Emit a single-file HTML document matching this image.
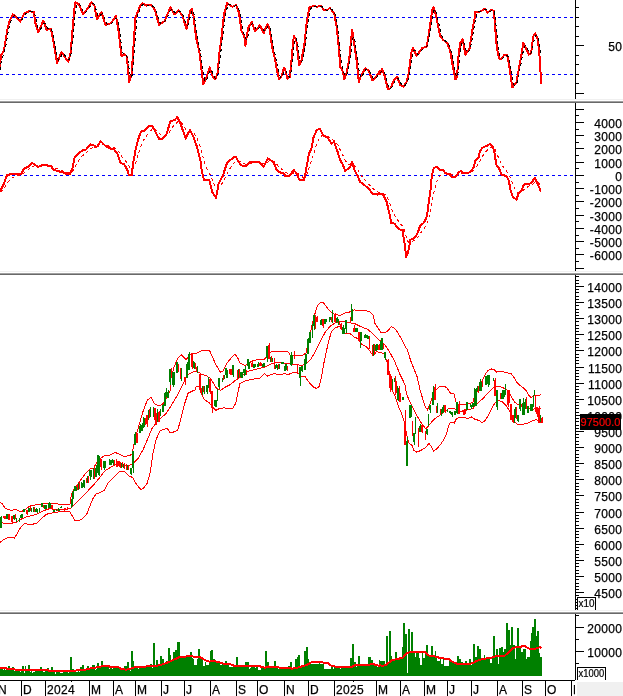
<!DOCTYPE html>
<html><head><meta charset="utf-8"><title>Chart</title>
<style>
html,body{margin:0;padding:0;background:#fff;}
body{width:623px;height:696px;overflow:hidden;}
svg{display:block;}
text{font-family:"Liberation Sans",Arial,sans-serif;fill:#000;stroke:#000;stroke-width:0.25px;}
.l{font-size:12px;letter-spacing:0.33px;}
.p{font-size:11px;fill:#ff0000;stroke:#ff0000;stroke-width:0.2px;}
.s{font-size:10px;stroke-width:0.2px;}
</style></head><body>
<svg width="623" height="696" viewBox="0 0 623 696" shape-rendering="crispEdges">
<rect width="623" height="696" fill="#fff"/>
<rect x="0" y="99" width="623" height="1" fill="#f0f0f0"/>
<rect x="0" y="100" width="623" height="1" fill="#ffffff"/>
<rect x="0" y="101" width="623" height="1" fill="#a0a0a0"/>
<rect x="0" y="102" width="623" height="1" fill="#696969"/>
<rect x="0" y="271" width="623" height="1" fill="#f0f0f0"/>
<rect x="0" y="272" width="623" height="1" fill="#ffffff"/>
<rect x="0" y="273" width="623" height="1" fill="#a0a0a0"/>
<rect x="0" y="274" width="623" height="1" fill="#696969"/>
<rect x="0" y="610" width="623" height="1" fill="#f0f0f0"/>
<rect x="0" y="611" width="623" height="1" fill="#ffffff"/>
<rect x="0" y="612" width="623" height="1" fill="#a0a0a0"/>
<rect x="0" y="613" width="623" height="1" fill="#696969"/>
<path d="M0 17.5H574" stroke="#0000ff" stroke-width="1" stroke-dasharray="3 3" fill="none"/>
<path d="M0 74.5H574" stroke="#0000ff" stroke-width="1" stroke-dasharray="3 3" fill="none"/>
<path d="M0 175.5H574" stroke="#0000ff" stroke-width="1" stroke-dasharray="3 3" fill="none"/>
<polyline points="0.0,502.2 2.4,503.8 4.8,507.8 8.0,509.7 12.0,510.2 16.1,509.4 20.9,511.8 24.1,510.2 27.3,507.8 30.5,505.9 36.9,504.6 43.3,503.8 49.8,503.0 56.2,503.8 64.2,504.6 69.8,504.9 71.4,494.9 73.8,489.3 77.0,485.3 80.3,480.5 85.1,474.1 90.7,468.5 94.7,469.3 95.0,465.4 99.0,459.0 104.6,455.8 110.2,455.0 115.1,452.3 119.1,454.2 123.9,456.6 129.5,455.5 132.2,454.2 133.5,446.2 136.7,433.3 139.9,422.1 143.2,410.9 147.2,400.4 150.9,397.2 154.4,403.6 159.2,406.1 163.2,403.6 167.2,396.4 170.4,390.0 170.9,378.2 174.1,366.9 177.3,358.9 181.3,354.9 186.1,359.7 190.1,354.1 196.5,353.3 202.2,350.5 209.4,350.1 211.8,355.7 215.8,364.5 220.6,372.5 223.0,370.9 227.0,362.9 231.1,358.1 234.8,354.1 237.5,357.3 239.9,362.9 243.1,364.5 245.0,365.6 248.2,363.2 253.0,360.8 259.4,359.2 264.3,359.2 267.5,356.0 271.5,351.5 277.1,351.2 287.5,351.2 290.7,355.7 296.4,355.7 302.8,355.2 306.0,352.8 308.4,341.5 311.6,327.1 314.8,314.3 317.2,306.2 320.4,302.2 323.7,303.0 327.7,308.6 331.7,312.7 334.9,314.3 338.9,315.1 340.0,315.5 344.8,313.1 349.6,312.0 354.4,309.9 359.3,310.7 365.7,310.7 369.7,312.0 372.9,314.7 375.0,323.5 377.7,327.5 380.9,332.4 384.9,332.4 388.2,330.7 391.4,326.4 395.4,329.1 398.6,334.0 401.8,339.6 405.0,346.0 407.4,350.0 410.6,360.4 413.8,368.5 417.0,376.5 419.0,385.0 419.3,387.7 422.5,398.1 425.7,407.7 427.4,409.8 429.8,404.5 432.2,397.3 435.4,390.1 439.4,386.9 444.2,386.1 447.4,388.5 450.6,393.3 454.2,394.1 455.4,399.7 456.7,404.5 460.3,404.5 465.1,404.5 469.9,403.7 473.1,401.8 475.0,394.6 478.2,389.8 481.4,382.5 484.6,375.3 487.8,370.5 491.1,368.9 494.3,369.7 496.7,372.1 501.5,371.3 507.1,372.9 511.1,373.7 514.3,377.7 517.5,383.3 521.5,386.5 525.6,389.8 528.8,395.4 531.2,397.5 535.2,395.4 540.8,394.9" fill="none" stroke="#ff0000" stroke-width="1"/>
<polyline points="0.0,522.2 4.8,523.5 11.2,523.5 16.1,522.2 20.9,519.3 25.7,517.1 32.1,515.5 38.5,513.4 44.9,510.2 49.8,508.6 56.2,509.4 64.2,509.7 70.6,508.6 75.4,503.8 80.3,499.0 85.1,494.1 89.9,488.5 94.7,483.7 95.0,483.1 99.8,477.5 104.6,471.1 111.1,467.0 117.5,463.8 123.9,465.4 129.5,465.4 133.5,463.0 138.3,458.2 143.2,449.4 148.0,438.2 152.0,428.5 156.0,422.9 160.8,418.1 165.6,414.1 170.4,406.9 175.3,398.8 180.1,390.0 183.7,382.2 188.5,374.1 192.5,372.1 197.4,371.4 201.4,374.1 206.2,375.7 210.2,378.2 213.4,383.0 216.6,388.6 220.6,390.2 225.4,387.0 230.3,384.6 235.1,380.6 239.9,377.4 243.9,374.6 245.0,372.0 251.4,370.4 257.8,368.8 264.3,367.2 270.7,364.0 277.1,362.4 283.5,363.2 289.9,364.0 296.4,364.0 301.2,365.6 306.0,364.0 310.8,359.2 315.6,351.2 320.4,341.5 325.3,331.9 330.1,326.3 334.9,323.1 338.9,321.8 340.0,321.1 344.8,321.9 349.6,322.7 354.4,323.5 359.3,325.9 364.1,328.0 368.1,329.6 372.1,333.2 376.9,338.0 381.7,342.0 385.7,346.0 389.8,352.4 393.8,359.6 397.0,366.9 400.2,374.9 403.4,381.3 405.0,385.0 406.5,394.1 409.7,401.3 412.9,407.7 416.1,414.1 419.3,419.8 422.5,424.6 425.7,428.6 428.2,426.2 431.4,422.2 435.4,418.2 439.4,415.7 444.2,412.1 449.0,408.5 453.8,408.5 458.7,411.4 463.5,410.9 468.3,409.8 473.1,408.5 475.0,405.8 479.0,401.8 483.0,398.6 487.0,393.8 491.1,389.8 495.1,386.5 499.9,386.5 503.9,388.2 507.9,390.6 511.1,396.2 514.3,401.8 517.5,404.2 521.5,405.0 525.6,405.8 528.8,408.2 532.0,409.8 536.0,408.2 540.8,408.2" fill="none" stroke="#ff0000" stroke-width="1"/>
<polyline points="0.0,542.3 3.2,539.9 7.2,538.0 12.0,537.5 14.4,538.0 17.7,532.7 20.9,527.0 24.1,523.8 28.9,524.2 32.9,524.2 36.9,523.0 41.7,518.2 46.5,514.2 53.0,512.9 59.4,511.8 65.8,511.8 69.8,511.8 72.2,515.8 75.1,520.6 77.8,520.9 81.9,519.0 86.7,514.2 89.9,506.2 93.1,498.2 96.3,493.7 98.7,493.3 104.6,490.0 107.8,483.1 112.7,478.3 119.1,471.9 124.7,471.9 128.7,475.9 132.7,477.5 136.7,484.7 140.7,489.5 143.2,488.7 147.2,483.1 150.4,471.9 152.8,454.2 156.0,439.8 160.0,430.9 164.0,429.3 167.2,428.5 170.4,433.0 174.5,431.7 177.7,430.1 180.9,418.9 184.1,405.2 188.1,393.2 192.9,390.8 195.0,390.0 196.5,386.2 199.0,387.0 201.4,394.2 204.6,399.8 209.4,403.0 212.6,407.0 215.8,410.3 219.0,408.7 223.8,407.8 228.7,408.7 232.7,408.3 235.9,403.0 238.0,391.8 239.9,383.8 243.9,381.4 245.0,380.9 251.4,379.3 259.4,378.5 264.3,373.7 267.5,376.1 273.9,373.7 280.3,374.5 285.1,373.7 288.3,374.5 293.2,372.4 298.0,372.8 301.2,376.9 305.2,376.9 309.2,382.5 313.2,386.8 316.4,388.4 319.2,386.5 321.2,378.5 323.7,364.0 326.1,352.8 328.5,341.5 331.7,331.1 334.9,327.9 338.9,326.5 340.0,326.7 344.8,333.2 349.6,333.2 354.4,337.2 358.5,338.8 361.7,344.4 364.9,345.7 368.1,348.4 371.3,353.2 373.7,355.6 376.1,351.6 380.1,352.4 384.1,354.0 386.5,360.4 388.2,366.9 389.8,374.9 391.4,385.0 392.0,389.3 396.1,398.9 399.3,408.5 402.5,415.7 404.9,424.6 406.5,434.2 408.9,443.0 412.1,445.4 413.7,450.3 416.9,452.2 420.9,450.3 425.7,447.8 429.0,443.0 431.4,447.0 433.8,451.1 437.0,448.7 441.0,443.8 444.2,439.0 446.6,433.4 449.3,423.8 451.4,422.2 454.2,423.0 456.2,419.0 458.7,417.8 463.5,417.8 468.3,418.2 471.5,416.9 473.9,418.6 475.0,419.5 479.0,420.3 482.2,422.7 485.4,420.3 488.6,414.6 491.9,408.2 495.1,402.6 498.3,400.2 502.3,401.8 506.3,405.8 509.5,410.6 511.9,417.0 514.3,421.9 517.5,424.3 522.4,424.3 527.2,423.5 531.2,421.5 536.0,419.5 539.2,421.9 540.8,422.7" fill="none" stroke="#ff0000" stroke-width="1"/>
<rect x="0" y="517" width="1" height="11" fill="#008000"/>
<rect x="1" y="516" width="1" height="12" fill="#008000"/>
<rect x="3" y="516" width="1" height="2" fill="#ff0000"/>
<rect x="4" y="516" width="1" height="3" fill="#ff0000"/>
<rect x="5" y="516" width="1" height="3" fill="#ff0000"/>
<rect x="6" y="514" width="1" height="5" fill="#008000"/>
<rect x="7" y="514" width="1" height="5" fill="#008000"/>
<rect x="8" y="514" width="1" height="6" fill="#ff0000"/>
<rect x="9" y="514" width="1" height="6" fill="#ff0000"/>
<rect x="11" y="516" width="1" height="6" fill="#ff0000"/>
<rect x="12" y="516" width="1" height="7" fill="#ff0000"/>
<rect x="13" y="515" width="1" height="4" fill="#008000"/>
<rect x="14" y="515" width="1" height="5" fill="#008000"/>
<rect x="15" y="514" width="1" height="5" fill="#ff0000"/>
<rect x="16" y="518" width="1" height="4" fill="#008000"/>
<rect x="19" y="518" width="1" height="4" fill="#008000"/>
<rect x="20" y="515" width="1" height="3" fill="#008000"/>
<rect x="21" y="514" width="1" height="4" fill="#008000"/>
<rect x="22" y="514" width="1" height="4" fill="#008000"/>
<rect x="23" y="509" width="1" height="3" fill="#008000"/>
<rect x="24" y="509" width="1" height="3" fill="#008000"/>
<rect x="26" y="510" width="1" height="4" fill="#ff0000"/>
<rect x="27" y="510" width="1" height="5" fill="#ff0000"/>
<rect x="28" y="508" width="1" height="4" fill="#008000"/>
<rect x="29" y="508" width="1" height="4" fill="#008000"/>
<rect x="30" y="506" width="1" height="5" fill="#ff0000"/>
<rect x="31" y="508" width="1" height="4" fill="#008000"/>
<rect x="33" y="507" width="1" height="5" fill="#008000"/>
<rect x="34" y="507" width="1" height="5" fill="#ff0000"/>
<rect x="35" y="509" width="1" height="3" fill="#008000"/>
<rect x="36" y="508" width="1" height="4" fill="#008000"/>
<rect x="37" y="509" width="1" height="4" fill="#008000"/>
<rect x="39" y="508" width="1" height="4" fill="#008000"/>
<rect x="41" y="503" width="1" height="4" fill="#008000"/>
<rect x="42" y="503" width="1" height="4" fill="#008000"/>
<rect x="43" y="505" width="1" height="3" fill="#ff0000"/>
<rect x="44" y="505" width="1" height="4" fill="#008000"/>
<rect x="45" y="505" width="1" height="4" fill="#008000"/>
<rect x="46" y="505" width="1" height="4" fill="#008000"/>
<rect x="48" y="503" width="1" height="5" fill="#008000"/>
<rect x="49" y="502" width="1" height="6" fill="#008000"/>
<rect x="50" y="503" width="1" height="5" fill="#008000"/>
<rect x="51" y="505" width="1" height="3" fill="#ff0000"/>
<rect x="52" y="505" width="1" height="5" fill="#ff0000"/>
<rect x="53" y="510" width="1" height="2" fill="#008000"/>
<rect x="54" y="510" width="1" height="2" fill="#008000"/>
<rect x="56" y="509" width="1" height="2" fill="#008000"/>
<rect x="57" y="509" width="1" height="2" fill="#ff0000"/>
<rect x="58" y="508" width="1" height="3" fill="#008000"/>
<rect x="59" y="509" width="1" height="2" fill="#008000"/>
<rect x="60" y="507" width="1" height="1" fill="#008000"/>
<rect x="61" y="506" width="1" height="2" fill="#008000"/>
<rect x="64" y="508" width="1" height="3" fill="#ff0000"/>
<rect x="65" y="508" width="1" height="2" fill="#ff0000"/>
<rect x="67" y="507" width="1" height="2" fill="#ff0000"/>
<rect x="71" y="499" width="1" height="9" fill="#008000"/>
<rect x="72" y="492" width="1" height="14" fill="#008000"/>
<rect x="73" y="490" width="1" height="9" fill="#008000"/>
<rect x="74" y="486" width="1" height="5" fill="#008000"/>
<rect x="75" y="486" width="1" height="5" fill="#008000"/>
<rect x="76" y="487" width="1" height="4" fill="#008000"/>
<rect x="77" y="484" width="1" height="6" fill="#ff0000"/>
<rect x="78" y="483" width="1" height="7" fill="#008000"/>
<rect x="79" y="483" width="1" height="6" fill="#ff0000"/>
<rect x="81" y="482" width="1" height="6" fill="#008000"/>
<rect x="82" y="483" width="1" height="5" fill="#008000"/>
<rect x="83" y="480" width="1" height="7" fill="#008000"/>
<rect x="84" y="480" width="1" height="8" fill="#008000"/>
<rect x="86" y="478" width="1" height="5" fill="#ff0000"/>
<rect x="87" y="476" width="1" height="7" fill="#008000"/>
<rect x="88" y="476" width="1" height="7" fill="#ff0000"/>
<rect x="89" y="470" width="1" height="6" fill="#008000"/>
<rect x="90" y="470" width="1" height="10" fill="#008000"/>
<rect x="91" y="470" width="1" height="7" fill="#008000"/>
<rect x="93" y="468" width="1" height="11" fill="#008000"/>
<rect x="94" y="466" width="1" height="13" fill="#ff0000"/>
<rect x="95" y="468" width="1" height="9" fill="#008000"/>
<rect x="96" y="465" width="1" height="12" fill="#008000"/>
<rect x="97" y="455" width="1" height="18" fill="#008000"/>
<rect x="98" y="455" width="1" height="20" fill="#008000"/>
<rect x="99" y="456" width="1" height="20" fill="#008000"/>
<rect x="100" y="459" width="1" height="8" fill="#ff0000"/>
<rect x="101" y="459" width="1" height="11" fill="#ff0000"/>
<rect x="103" y="461" width="1" height="7" fill="#008000"/>
<rect x="104" y="461" width="1" height="9" fill="#008000"/>
<rect x="105" y="461" width="1" height="7" fill="#008000"/>
<rect x="109" y="459" width="1" height="6" fill="#008000"/>
<rect x="110" y="460" width="1" height="5" fill="#008000"/>
<rect x="111" y="460" width="1" height="5" fill="#008000"/>
<rect x="112" y="459" width="1" height="4" fill="#008000"/>
<rect x="113" y="460" width="1" height="5" fill="#008000"/>
<rect x="114" y="460" width="1" height="5" fill="#ff0000"/>
<rect x="116" y="459" width="1" height="8" fill="#ff0000"/>
<rect x="117" y="461" width="1" height="6" fill="#ff0000"/>
<rect x="118" y="461" width="1" height="5" fill="#ff0000"/>
<rect x="119" y="461" width="1" height="6" fill="#ff0000"/>
<rect x="120" y="462" width="1" height="6" fill="#ff0000"/>
<rect x="121" y="463" width="1" height="5" fill="#008000"/>
<rect x="122" y="462" width="1" height="5" fill="#ff0000"/>
<rect x="123" y="464" width="1" height="4" fill="#008000"/>
<rect x="124" y="463" width="1" height="6" fill="#ff0000"/>
<rect x="126" y="464" width="1" height="6" fill="#ff0000"/>
<rect x="127" y="465" width="1" height="5" fill="#008000"/>
<rect x="128" y="465" width="1" height="5" fill="#ff0000"/>
<rect x="130" y="468" width="1" height="6" fill="#008000"/>
<rect x="131" y="468" width="1" height="7" fill="#008000"/>
<rect x="132" y="451" width="1" height="17" fill="#008000"/>
<rect x="133" y="451" width="1" height="22" fill="#008000"/>
<rect x="134" y="434" width="1" height="11" fill="#008000"/>
<rect x="135" y="432" width="1" height="13" fill="#008000"/>
<rect x="136" y="434" width="1" height="9" fill="#ff0000"/>
<rect x="137" y="433" width="1" height="10" fill="#ff0000"/>
<rect x="139" y="426" width="1" height="7" fill="#008000"/>
<rect x="140" y="424" width="1" height="9" fill="#008000"/>
<rect x="141" y="425" width="1" height="6" fill="#008000"/>
<rect x="142" y="423" width="1" height="8" fill="#008000"/>
<rect x="143" y="417" width="1" height="11" fill="#008000"/>
<rect x="144" y="418" width="1" height="9" fill="#008000"/>
<rect x="145" y="418" width="1" height="7" fill="#ff0000"/>
<rect x="146" y="415" width="1" height="9" fill="#ff0000"/>
<rect x="147" y="415" width="1" height="12" fill="#ff0000"/>
<rect x="148" y="410" width="1" height="10" fill="#008000"/>
<rect x="149" y="409" width="1" height="9" fill="#ff0000"/>
<rect x="150" y="407" width="1" height="10" fill="#008000"/>
<rect x="153" y="407" width="1" height="10" fill="#008000"/>
<rect x="154" y="408" width="1" height="12" fill="#ff0000"/>
<rect x="155" y="408" width="1" height="17" fill="#ff0000"/>
<rect x="156" y="413" width="1" height="12" fill="#ff0000"/>
<rect x="157" y="409" width="1" height="13" fill="#008000"/>
<rect x="158" y="412" width="1" height="10" fill="#ff0000"/>
<rect x="159" y="411" width="1" height="11" fill="#ff0000"/>
<rect x="160" y="409" width="1" height="7" fill="#008000"/>
<rect x="162" y="405" width="1" height="7" fill="#008000"/>
<rect x="163" y="404" width="1" height="8" fill="#008000"/>
<rect x="164" y="393" width="1" height="13" fill="#008000"/>
<rect x="165" y="392" width="1" height="14" fill="#008000"/>
<rect x="166" y="388" width="1" height="9" fill="#008000"/>
<rect x="167" y="392" width="1" height="6" fill="#008000"/>
<rect x="168" y="390" width="1" height="8" fill="#008000"/>
<rect x="169" y="369" width="1" height="13" fill="#008000"/>
<rect x="170" y="369" width="1" height="16" fill="#008000"/>
<rect x="171" y="368" width="1" height="10" fill="#ff0000"/>
<rect x="172" y="372" width="1" height="13" fill="#008000"/>
<rect x="173" y="372" width="1" height="15" fill="#008000"/>
<rect x="174" y="372" width="1" height="13" fill="#008000"/>
<rect x="176" y="362" width="1" height="11" fill="#008000"/>
<rect x="177" y="362" width="1" height="11" fill="#008000"/>
<rect x="178" y="364" width="1" height="8" fill="#ff0000"/>
<rect x="180" y="368" width="1" height="11" fill="#ff0000"/>
<rect x="181" y="368" width="1" height="13" fill="#008000"/>
<rect x="184" y="377" width="1" height="5" fill="#ff0000"/>
<rect x="185" y="377" width="1" height="8" fill="#ff0000"/>
<rect x="186" y="364" width="1" height="14" fill="#008000"/>
<rect x="187" y="362" width="1" height="16" fill="#008000"/>
<rect x="188" y="354" width="1" height="16" fill="#008000"/>
<rect x="189" y="352" width="1" height="18" fill="#008000"/>
<rect x="191" y="353" width="1" height="14" fill="#ff0000"/>
<rect x="192" y="353" width="1" height="16" fill="#ff0000"/>
<rect x="193" y="361" width="1" height="7" fill="#008000"/>
<rect x="194" y="362" width="1" height="7" fill="#008000"/>
<rect x="195" y="363" width="1" height="6" fill="#ff0000"/>
<rect x="196" y="367" width="1" height="5" fill="#ff0000"/>
<rect x="197" y="366" width="1" height="7" fill="#008000"/>
<rect x="199" y="374" width="1" height="15" fill="#ff0000"/>
<rect x="200" y="374" width="1" height="17" fill="#ff0000"/>
<rect x="201" y="388" width="1" height="7" fill="#ff0000"/>
<rect x="202" y="386" width="1" height="9" fill="#008000"/>
<rect x="203" y="386" width="1" height="6" fill="#ff0000"/>
<rect x="204" y="386" width="1" height="8" fill="#008000"/>
<rect x="206" y="385" width="1" height="7" fill="#008000"/>
<rect x="207" y="385" width="1" height="9" fill="#008000"/>
<rect x="208" y="377" width="1" height="11" fill="#008000"/>
<rect x="209" y="379" width="1" height="13" fill="#ff0000"/>
<rect x="210" y="379" width="1" height="15" fill="#ff0000"/>
<rect x="211" y="391" width="1" height="17" fill="#ff0000"/>
<rect x="212" y="391" width="1" height="22" fill="#ff0000"/>
<rect x="214" y="400" width="1" height="6" fill="#008000"/>
<rect x="215" y="400" width="1" height="7" fill="#008000"/>
<rect x="216" y="400" width="1" height="7" fill="#008000"/>
<rect x="217" y="389" width="1" height="12" fill="#008000"/>
<rect x="218" y="378" width="1" height="9" fill="#008000"/>
<rect x="219" y="378" width="1" height="11" fill="#008000"/>
<rect x="222" y="378" width="1" height="4" fill="#008000"/>
<rect x="223" y="375" width="1" height="5" fill="#ff0000"/>
<rect x="224" y="375" width="1" height="4" fill="#008000"/>
<rect x="225" y="368" width="1" height="7" fill="#008000"/>
<rect x="226" y="368" width="1" height="10" fill="#008000"/>
<rect x="227" y="370" width="1" height="8" fill="#008000"/>
<rect x="229" y="369" width="1" height="5" fill="#ff0000"/>
<rect x="230" y="369" width="1" height="6" fill="#ff0000"/>
<rect x="231" y="369" width="1" height="6" fill="#ff0000"/>
<rect x="232" y="365" width="1" height="10" fill="#008000"/>
<rect x="233" y="365" width="1" height="12" fill="#008000"/>
<rect x="237" y="370" width="1" height="8" fill="#ff0000"/>
<rect x="238" y="369" width="1" height="9" fill="#008000"/>
<rect x="239" y="369" width="1" height="8" fill="#ff0000"/>
<rect x="240" y="372" width="1" height="5" fill="#008000"/>
<rect x="241" y="372" width="1" height="6" fill="#008000"/>
<rect x="242" y="372" width="1" height="6" fill="#008000"/>
<rect x="243" y="369" width="1" height="4" fill="#008000"/>
<rect x="244" y="369" width="1" height="7" fill="#008000"/>
<rect x="245" y="366" width="1" height="9" fill="#008000"/>
<rect x="246" y="370" width="1" height="5" fill="#ff0000"/>
<rect x="247" y="359" width="1" height="7" fill="#008000"/>
<rect x="248" y="359" width="1" height="10" fill="#008000"/>
<rect x="249" y="362" width="1" height="7" fill="#008000"/>
<rect x="251" y="363" width="1" height="4" fill="#ff0000"/>
<rect x="252" y="362" width="1" height="5" fill="#ff0000"/>
<rect x="253" y="364" width="1" height="4" fill="#008000"/>
<rect x="254" y="364" width="1" height="4" fill="#008000"/>
<rect x="255" y="364" width="1" height="3" fill="#008000"/>
<rect x="257" y="364" width="1" height="3" fill="#008000"/>
<rect x="258" y="362" width="1" height="5" fill="#008000"/>
<rect x="259" y="363" width="1" height="3" fill="#ff0000"/>
<rect x="260" y="362" width="1" height="4" fill="#ff0000"/>
<rect x="261" y="363" width="1" height="3" fill="#ff0000"/>
<rect x="262" y="364" width="1" height="3" fill="#008000"/>
<rect x="263" y="363" width="1" height="4" fill="#008000"/>
<rect x="264" y="363" width="1" height="4" fill="#008000"/>
<rect x="266" y="346" width="1" height="12" fill="#008000"/>
<rect x="267" y="346" width="1" height="16" fill="#008000"/>
<rect x="268" y="345" width="1" height="14" fill="#ff0000"/>
<rect x="269" y="343" width="1" height="16" fill="#ff0000"/>
<rect x="270" y="357" width="1" height="5" fill="#008000"/>
<rect x="271" y="356" width="1" height="6" fill="#ff0000"/>
<rect x="272" y="358" width="1" height="4" fill="#008000"/>
<rect x="274" y="358" width="1" height="11" fill="#ff0000"/>
<rect x="275" y="365" width="1" height="4" fill="#008000"/>
<rect x="276" y="364" width="1" height="4" fill="#008000"/>
<rect x="277" y="365" width="1" height="5" fill="#008000"/>
<rect x="278" y="364" width="1" height="5" fill="#ff0000"/>
<rect x="279" y="364" width="1" height="5" fill="#008000"/>
<rect x="281" y="362" width="1" height="2" fill="#008000"/>
<rect x="282" y="362" width="1" height="2" fill="#008000"/>
<rect x="283" y="362" width="1" height="2" fill="#008000"/>
<rect x="284" y="366" width="1" height="5" fill="#008000"/>
<rect x="285" y="364" width="1" height="7" fill="#008000"/>
<rect x="286" y="364" width="1" height="6" fill="#008000"/>
<rect x="287" y="366" width="1" height="5" fill="#ff0000"/>
<rect x="290" y="355" width="1" height="10" fill="#008000"/>
<rect x="291" y="352" width="1" height="14" fill="#008000"/>
<rect x="292" y="355" width="1" height="9" fill="#008000"/>
<rect x="294" y="351" width="1" height="8" fill="#ff0000"/>
<rect x="297" y="364" width="1" height="10" fill="#ff0000"/>
<rect x="299" y="367" width="1" height="11" fill="#008000"/>
<rect x="300" y="367" width="1" height="19" fill="#008000"/>
<rect x="301" y="366" width="1" height="5" fill="#008000"/>
<rect x="302" y="366" width="1" height="6" fill="#008000"/>
<rect x="304" y="359" width="1" height="11" fill="#008000"/>
<rect x="305" y="354" width="1" height="16" fill="#008000"/>
<rect x="306" y="354" width="1" height="10" fill="#008000"/>
<rect x="307" y="339" width="1" height="15" fill="#008000"/>
<rect x="308" y="338" width="1" height="16" fill="#008000"/>
<rect x="309" y="332" width="1" height="11" fill="#008000"/>
<rect x="310" y="332" width="1" height="11" fill="#008000"/>
<rect x="312" y="324" width="1" height="14" fill="#008000"/>
<rect x="313" y="315" width="1" height="11" fill="#008000"/>
<rect x="314" y="315" width="1" height="15" fill="#008000"/>
<rect x="315" y="315" width="1" height="14" fill="#ff0000"/>
<rect x="316" y="317" width="1" height="5" fill="#ff0000"/>
<rect x="317" y="316" width="1" height="6" fill="#ff0000"/>
<rect x="320" y="320" width="1" height="5" fill="#008000"/>
<rect x="321" y="319" width="1" height="6" fill="#008000"/>
<rect x="322" y="319" width="1" height="7" fill="#ff0000"/>
<rect x="323" y="319" width="1" height="9" fill="#ff0000"/>
<rect x="324" y="319" width="1" height="5" fill="#008000"/>
<rect x="325" y="319" width="1" height="5" fill="#008000"/>
<rect x="326" y="319" width="1" height="3" fill="#008000"/>
<rect x="329" y="317" width="1" height="5" fill="#008000"/>
<rect x="330" y="317" width="1" height="3" fill="#008000"/>
<rect x="331" y="317" width="1" height="5" fill="#ff0000"/>
<rect x="332" y="310" width="1" height="13" fill="#008000"/>
<rect x="334" y="315" width="1" height="7" fill="#ff0000"/>
<rect x="335" y="313" width="1" height="9" fill="#ff0000"/>
<rect x="336" y="318" width="1" height="5" fill="#008000"/>
<rect x="337" y="317" width="1" height="5" fill="#008000"/>
<rect x="338" y="319" width="1" height="6" fill="#008000"/>
<rect x="339" y="321" width="1" height="4" fill="#ff0000"/>
<rect x="340" y="324" width="1" height="5" fill="#ff0000"/>
<rect x="341" y="323" width="1" height="6" fill="#ff0000"/>
<rect x="342" y="327" width="1" height="7" fill="#008000"/>
<rect x="343" y="325" width="1" height="9" fill="#008000"/>
<rect x="344" y="328" width="1" height="6" fill="#008000"/>
<rect x="345" y="320" width="1" height="9" fill="#008000"/>
<rect x="346" y="320" width="1" height="13" fill="#008000"/>
<rect x="350" y="317" width="1" height="6" fill="#ff0000"/>
<rect x="351" y="304" width="1" height="17" fill="#008000"/>
<rect x="352" y="309" width="1" height="12" fill="#008000"/>
<rect x="353" y="328" width="1" height="4" fill="#ff0000"/>
<rect x="354" y="325" width="1" height="7" fill="#ff0000"/>
<rect x="355" y="328" width="1" height="4" fill="#008000"/>
<rect x="356" y="328" width="1" height="4" fill="#008000"/>
<rect x="357" y="328" width="1" height="4" fill="#008000"/>
<rect x="358" y="332" width="1" height="9" fill="#ff0000"/>
<rect x="359" y="332" width="1" height="10" fill="#ff0000"/>
<rect x="360" y="332" width="1" height="16" fill="#008000"/>
<rect x="361" y="332" width="1" height="9" fill="#008000"/>
<rect x="364" y="335" width="1" height="3" fill="#008000"/>
<rect x="365" y="334" width="1" height="4" fill="#008000"/>
<rect x="366" y="335" width="1" height="3" fill="#008000"/>
<rect x="367" y="335" width="1" height="4" fill="#008000"/>
<rect x="368" y="336" width="1" height="3" fill="#008000"/>
<rect x="369" y="336" width="1" height="13" fill="#ff0000"/>
<rect x="372" y="345" width="1" height="11" fill="#ff0000"/>
<rect x="373" y="344" width="1" height="12" fill="#008000"/>
<rect x="374" y="344" width="1" height="10" fill="#ff0000"/>
<rect x="375" y="345" width="1" height="6" fill="#008000"/>
<rect x="376" y="344" width="1" height="7" fill="#008000"/>
<rect x="377" y="344" width="1" height="6" fill="#008000"/>
<rect x="378" y="345" width="1" height="5" fill="#ff0000"/>
<rect x="379" y="344" width="1" height="6" fill="#ff0000"/>
<rect x="380" y="341" width="1" height="9" fill="#008000"/>
<rect x="381" y="338" width="1" height="12" fill="#008000"/>
<rect x="382" y="338" width="1" height="12" fill="#008000"/>
<rect x="383" y="344" width="1" height="5" fill="#ff0000"/>
<rect x="384" y="352" width="1" height="6" fill="#008000"/>
<rect x="385" y="352" width="1" height="8" fill="#008000"/>
<rect x="387" y="360" width="1" height="15" fill="#ff0000"/>
<rect x="388" y="359" width="1" height="16" fill="#ff0000"/>
<rect x="389" y="374" width="1" height="14" fill="#ff0000"/>
<rect x="390" y="374" width="1" height="18" fill="#ff0000"/>
<rect x="391" y="376" width="1" height="14" fill="#ff0000"/>
<rect x="392" y="379" width="1" height="11" fill="#008000"/>
<rect x="394" y="378" width="1" height="4" fill="#008000"/>
<rect x="395" y="376" width="1" height="19" fill="#ff0000"/>
<rect x="396" y="381" width="1" height="12" fill="#ff0000"/>
<rect x="397" y="386" width="1" height="14" fill="#008000"/>
<rect x="398" y="388" width="1" height="13" fill="#008000"/>
<rect x="399" y="386" width="1" height="16" fill="#ff0000"/>
<rect x="400" y="393" width="1" height="9" fill="#ff0000"/>
<rect x="402" y="397" width="1" height="3" fill="#008000"/>
<rect x="403" y="397" width="1" height="3" fill="#008000"/>
<rect x="404" y="422" width="1" height="23" fill="#ff0000"/>
<rect x="405" y="410" width="1" height="35" fill="#ff0000"/>
<rect x="406" y="441" width="1" height="25" fill="#008000"/>
<rect x="407" y="437" width="1" height="29" fill="#008000"/>
<rect x="409" y="405" width="1" height="13" fill="#008000"/>
<rect x="410" y="405" width="1" height="13" fill="#008000"/>
<rect x="411" y="405" width="1" height="12" fill="#008000"/>
<rect x="412" y="421" width="1" height="15" fill="#ff0000"/>
<rect x="413" y="433" width="1" height="9" fill="#008000"/>
<rect x="414" y="433" width="1" height="12" fill="#008000"/>
<rect x="415" y="417" width="1" height="17" fill="#008000"/>
<rect x="418" y="428" width="1" height="19" fill="#ff0000"/>
<rect x="419" y="426" width="1" height="6" fill="#008000"/>
<rect x="420" y="424" width="1" height="8" fill="#008000"/>
<rect x="421" y="425" width="1" height="7" fill="#ff0000"/>
<rect x="422" y="425" width="1" height="8" fill="#ff0000"/>
<rect x="425" y="431" width="1" height="9" fill="#ff0000"/>
<rect x="426" y="429" width="1" height="5" fill="#008000"/>
<rect x="427" y="429" width="1" height="6" fill="#008000"/>
<rect x="428" y="414" width="1" height="12" fill="#008000"/>
<rect x="429" y="405" width="1" height="5" fill="#008000"/>
<rect x="430" y="405" width="1" height="8" fill="#008000"/>
<rect x="432" y="392" width="1" height="13" fill="#008000"/>
<rect x="433" y="386" width="1" height="19" fill="#008000"/>
<rect x="434" y="387" width="1" height="13" fill="#ff0000"/>
<rect x="435" y="384" width="1" height="16" fill="#ff0000"/>
<rect x="436" y="406" width="1" height="7" fill="#ff0000"/>
<rect x="437" y="403" width="1" height="10" fill="#008000"/>
<rect x="440" y="409" width="1" height="5" fill="#ff0000"/>
<rect x="441" y="409" width="1" height="7" fill="#008000"/>
<rect x="442" y="407" width="1" height="6" fill="#008000"/>
<rect x="443" y="405" width="1" height="8" fill="#008000"/>
<rect x="444" y="405" width="1" height="7" fill="#ff0000"/>
<rect x="445" y="405" width="1" height="8" fill="#ff0000"/>
<rect x="447" y="409" width="1" height="3" fill="#008000"/>
<rect x="449" y="411" width="1" height="2" fill="#008000"/>
<rect x="450" y="411" width="1" height="3" fill="#008000"/>
<rect x="451" y="412" width="1" height="3" fill="#008000"/>
<rect x="452" y="412" width="1" height="5" fill="#008000"/>
<rect x="454" y="411" width="1" height="4" fill="#008000"/>
<rect x="455" y="411" width="1" height="4" fill="#008000"/>
<rect x="456" y="402" width="1" height="11" fill="#008000"/>
<rect x="457" y="402" width="1" height="12" fill="#008000"/>
<rect x="458" y="405" width="1" height="9" fill="#ff0000"/>
<rect x="459" y="401" width="1" height="13" fill="#ff0000"/>
<rect x="463" y="411" width="1" height="4" fill="#ff0000"/>
<rect x="464" y="409" width="1" height="6" fill="#ff0000"/>
<rect x="465" y="409" width="1" height="5" fill="#ff0000"/>
<rect x="466" y="402" width="1" height="8" fill="#008000"/>
<rect x="467" y="402" width="1" height="8" fill="#008000"/>
<rect x="470" y="404" width="1" height="3" fill="#008000"/>
<rect x="471" y="405" width="1" height="4" fill="#008000"/>
<rect x="472" y="403" width="1" height="4" fill="#008000"/>
<rect x="473" y="403" width="1" height="4" fill="#008000"/>
<rect x="474" y="388" width="1" height="18" fill="#008000"/>
<rect x="475" y="389" width="1" height="17" fill="#008000"/>
<rect x="476" y="388" width="1" height="18" fill="#008000"/>
<rect x="477" y="386" width="1" height="5" fill="#008000"/>
<rect x="478" y="386" width="1" height="7" fill="#ff0000"/>
<rect x="479" y="382" width="1" height="9" fill="#008000"/>
<rect x="480" y="379" width="1" height="12" fill="#008000"/>
<rect x="481" y="382" width="1" height="9" fill="#008000"/>
<rect x="482" y="380" width="1" height="7" fill="#ff0000"/>
<rect x="485" y="376" width="1" height="9" fill="#008000"/>
<rect x="486" y="376" width="1" height="9" fill="#008000"/>
<rect x="487" y="375" width="1" height="9" fill="#008000"/>
<rect x="488" y="375" width="1" height="12" fill="#008000"/>
<rect x="489" y="375" width="1" height="10" fill="#008000"/>
<rect x="493" y="378" width="1" height="3" fill="#008000"/>
<rect x="494" y="380" width="1" height="16" fill="#ff0000"/>
<rect x="495" y="378" width="1" height="18" fill="#ff0000"/>
<rect x="496" y="390" width="1" height="17" fill="#008000"/>
<rect x="497" y="390" width="1" height="20" fill="#008000"/>
<rect x="500" y="393" width="1" height="6" fill="#ff0000"/>
<rect x="501" y="393" width="1" height="6" fill="#008000"/>
<rect x="502" y="390" width="1" height="9" fill="#008000"/>
<rect x="503" y="390" width="1" height="9" fill="#008000"/>
<rect x="504" y="390" width="1" height="7" fill="#008000"/>
<rect x="505" y="384" width="1" height="11" fill="#008000"/>
<rect x="507" y="390" width="1" height="15" fill="#ff0000"/>
<rect x="508" y="390" width="1" height="17" fill="#ff0000"/>
<rect x="509" y="390" width="1" height="13" fill="#ff0000"/>
<rect x="510" y="404" width="1" height="16" fill="#ff0000"/>
<rect x="511" y="404" width="1" height="16" fill="#ff0000"/>
<rect x="512" y="415" width="1" height="7" fill="#ff0000"/>
<rect x="513" y="415" width="1" height="8" fill="#ff0000"/>
<rect x="514" y="409" width="1" height="14" fill="#008000"/>
<rect x="515" y="407" width="1" height="11" fill="#008000"/>
<rect x="516" y="407" width="1" height="12" fill="#ff0000"/>
<rect x="517" y="415" width="1" height="6" fill="#008000"/>
<rect x="518" y="415" width="1" height="7" fill="#008000"/>
<rect x="519" y="399" width="1" height="10" fill="#008000"/>
<rect x="520" y="399" width="1" height="12" fill="#008000"/>
<rect x="521" y="404" width="1" height="3" fill="#ff0000"/>
<rect x="522" y="403" width="1" height="12" fill="#008000"/>
<rect x="523" y="398" width="1" height="17" fill="#008000"/>
<rect x="524" y="402" width="1" height="13" fill="#008000"/>
<rect x="525" y="399" width="1" height="10" fill="#008000"/>
<rect x="526" y="397" width="1" height="12" fill="#ff0000"/>
<rect x="527" y="406" width="1" height="7" fill="#008000"/>
<rect x="528" y="406" width="1" height="7" fill="#008000"/>
<rect x="530" y="404" width="1" height="7" fill="#008000"/>
<rect x="531" y="404" width="1" height="7" fill="#008000"/>
<rect x="532" y="404" width="1" height="7" fill="#008000"/>
<rect x="533" y="395" width="1" height="12" fill="#008000"/>
<rect x="534" y="390" width="1" height="5" fill="#008000"/>
<rect x="535" y="395" width="1" height="17" fill="#ff0000"/>
<rect x="536" y="407" width="1" height="7" fill="#ff0000"/>
<rect x="537" y="407" width="1" height="10" fill="#ff0000"/>
<rect x="538" y="409" width="1" height="14" fill="#ff0000"/>
<rect x="539" y="406" width="1" height="17" fill="#ff0000"/>
<rect x="540" y="415" width="1" height="7" fill="#008000"/>
<rect x="541" y="418" width="1" height="5" fill="#ff0000"/>
<rect x="542" y="417" width="1" height="6" fill="#ff0000"/>
<polyline points="0.0,69.8 0.8,55.4 4.0,50.6 7.2,30.5 9.6,20.9 12.8,14.4 16.1,16.9 20.1,21.7 24.1,13.6 28.9,11.2 33.7,12.0 35.6,24.1 38.2,32.1 43.3,20.9 46.5,29.7 51.0,28.9 53.8,43.3 57.0,63.4 61.5,52.2 68.2,61.8 70.6,53.0 73.0,24.1 75.1,2.4 78.7,4.0 83.1,14.4 87.5,8.8 91.5,1.9 94.7,6.4 95.0,9.6 96.9,19.3 101.4,12.0 105.4,24.9 111.1,23.3 115.9,16.1 118.3,28.9 121.5,56.2 123.9,53.8 126.8,56.2 129.2,81.9 131.6,75.4 133.5,46.5 135.4,17.7 139.9,6.4 142.7,3.2 146.4,5.6 151.2,5.1 155.2,10.4 158.9,24.9 164.8,20.9 170.4,7.2 174.5,14.4 178.8,10.4 182.5,16.1 186.5,28.9 189.7,12.8 190.0,11.2 191.6,8.8 193.5,16.1 196.1,37.7 199.6,53.0 203.2,84.3 206.1,78.7 209.6,67.4 212.8,77.0 215.2,79.5 217.6,73.0 219.4,53.0 221.6,36.9 224.0,14.4 227.2,3.2 232.5,6.7 236.2,5.1 239.0,12.8 241.4,30.5 244.6,37.7 245.4,45.7 248.1,28.1 251.8,21.7 255.0,31.3 259.8,25.4 263.8,32.9 267.4,24.1 269.8,29.7 272.2,48.2 274.8,57.8 276.7,69.0 279.1,79.5 281.5,76.2 283.9,68.2 285.0,69.0 287.4,78.7 289.8,77.0 291.7,57.8 293.8,36.1 296.2,39.3 299.1,65.0 301.1,61.8 304.3,44.9 306.7,22.5 309.4,7.2 313.1,6.1 317.1,6.7 321.1,6.1 324.3,10.4 327.1,10.4 329.6,8.0 334.0,12.8 336.7,26.5 338.8,48.2 340.4,67.4 342.5,70.6 344.4,79.5 346.8,72.2 349.2,59.4 350.8,43.3 352.1,29.7 354.0,41.7 356.9,62.6 358.8,81.9 361.2,75.4 365.3,68.2 368.5,70.6 372.5,80.3 376.5,76.2 379.7,71.4 380.0,73.8 381.9,69.0 384.5,75.4 388.0,89.6 390.4,88.3 394.4,79.5 397.3,77.0 400.1,84.8 403.3,86.7 406.5,81.9 408.9,72.2 411.3,53.0 412.9,48.2 416.6,55.9 422.1,48.2 426.9,46.5 429.8,27.3 432.2,9.6 433.8,7.2 436.5,17.7 440.2,36.1 443.4,40.1 447.4,43.3 450.3,51.4 453.0,67.4 455.4,79.5 457.0,77.0 458.7,53.0 460.3,42.5 462.7,39.3 465.4,54.6 469.6,48.2 473.1,25.7 474.7,17.7 475.0,12.0 479.8,11.6 485.0,8.8 487.5,12.5 491.1,10.0 493.9,10.9 495.1,27.3 496.7,46.5 499.1,58.6 501.0,59.4 503.9,55.4 507.1,54.6 509.5,67.4 512.2,87.5 516.4,82.7 519.1,67.4 521.5,54.6 523.2,43.0 526.0,48.2 528.8,54.6 531.2,53.0 533.1,36.9 535.2,33.4 537.9,40.1 540.0,61.0 541.1,84.3" fill="none" stroke="#ff0000" stroke-width="2" stroke-linejoin="round"/>
<polyline points="0.0,69.8 1.2,62.3 2.4,59.2 3.6,53.0 4.8,50.0 5.9,45.2 7.1,38.5 8.3,31.8 9.5,26.1 10.7,22.0 11.9,18.8 13.1,16.6 14.3,15.5 15.5,15.5 16.7,16.5 17.8,17.7 19.0,19.0 20.2,20.3 21.4,20.2 22.6,19.0 23.8,16.6 25.0,14.7 26.2,13.3 27.4,12.6 28.6,12.0 29.8,11.6 30.9,11.5 32.1,11.6 33.3,11.8 34.5,13.6 35.7,17.8 36.9,23.1 38.1,28.0 39.3,29.8 40.5,29.6 41.6,27.2 42.8,24.6 44.0,23.1 45.2,23.6 46.4,26.0 47.6,28.3 48.8,29.4 50.0,29.3 51.2,29.3 52.4,31.5 53.5,35.9 54.7,42.5 55.9,49.5 57.1,56.4 58.3,60.0 59.5,60.1 60.7,57.1 61.9,54.7 63.1,53.8 64.3,54.4 65.4,56.1 66.6,57.8 67.8,59.5 69.0,59.9 70.2,58.2 71.4,52.3 72.6,42.5 73.8,29.8 75.0,16.6 76.2,7.7 77.3,3.4 78.5,3.4 79.7,4.6 80.9,6.6 82.1,9.3 83.3,11.9 84.5,13.0 85.7,12.7 86.9,11.2 88.1,9.5 89.2,7.7 90.4,5.8 91.6,3.9 92.8,3.2 94.0,3.8 95.2,6.6 96.4,10.9 97.6,15.1 98.8,17.0 100.0,16.3 101.1,14.4 102.3,13.9 103.5,15.4 104.7,18.8 105.9,22.0 107.1,23.9 108.3,24.4 109.5,24.1 110.7,23.7 111.9,23.1 113.0,21.9 114.2,20.3 115.4,18.5 116.6,18.4 117.8,21.1 119.0,27.2 120.2,35.5 121.4,45.2 122.6,51.9 123.8,54.8 124.9,54.6 126.1,54.7 127.3,57.4 128.5,64.1 129.7,72.4 130.9,77.5 132.1,75.3 133.3,65.2 134.5,50.2 135.7,33.2 136.8,21.2 138.0,14.2 139.2,11.2 140.4,8.4 141.6,6.2 142.8,4.5 144.0,3.9 145.2,4.1 146.4,4.8 147.6,5.3 148.7,5.5 149.9,5.4 151.1,5.3 152.3,5.7 153.5,6.7 154.7,8.2 155.9,10.4 157.1,13.6 158.3,17.8 159.5,21.6 160.6,23.6 161.8,23.7 163.0,22.9 164.2,22.1 165.4,20.9 166.6,19.1 167.8,16.6 169.0,13.7 170.2,10.8 171.4,9.2 172.5,9.3 173.7,11.0 174.9,12.7 176.1,13.4 177.3,12.9 178.5,11.8 179.7,11.4 180.9,12.0 182.1,13.6 183.3,15.9 184.4,18.8 185.6,22.4 186.8,25.2 188.0,24.9 189.2,21.3 190.4,15.7 191.6,11.6 192.8,10.9 194.0,13.9 195.2,20.9 196.3,29.4 197.5,37.5 198.7,43.9 199.9,49.5 201.1,56.9 202.3,66.1 203.5,75.4 204.7,80.5 205.9,81.3 207.1,78.6 208.2,75.4 209.4,71.7 210.6,70.0 211.8,70.9 213.0,74.0 214.2,76.6 215.4,78.2 216.6,77.7 217.8,75.3 219.0,68.2 220.1,58.8 221.3,48.0 222.5,38.3 223.7,28.2 224.9,19.0 226.1,12.0 227.3,7.3 228.5,4.8 229.7,4.0 230.9,4.8 232.0,5.6 233.2,6.2 234.4,6.3 235.6,5.9 236.8,6.0 238.0,7.4 239.2,10.5 240.4,16.0 241.6,22.9 242.8,29.3 243.9,33.6 245.1,37.8 246.3,39.8 247.5,38.3 248.7,32.8 249.9,28.0 251.1,25.0 252.3,23.7 253.5,24.2 254.7,26.7 255.8,29.1 257.0,29.8 258.2,28.8 259.4,27.3 260.6,26.7 261.8,27.3 263.0,29.1 264.2,30.8 265.4,30.8 266.6,29.1 267.7,26.7 268.9,26.3 270.1,28.4 271.3,33.9 272.5,41.1 273.7,48.3 274.9,53.9 276.1,59.3 277.3,65.2 278.5,71.3 279.6,75.7 280.8,77.5 282.0,76.8 283.2,74.0 284.4,71.2 285.6,70.2 286.8,72.1 288.0,75.3 289.2,77.3 290.4,75.8 291.5,69.6 292.7,59.6 293.9,47.8 295.1,40.5 296.3,38.0 297.5,42.8 298.7,50.6 299.9,58.5 301.1,62.2 302.3,60.3 303.4,55.5 304.6,48.7 305.8,40.3 307.0,30.7 308.2,21.6 309.4,13.9 310.6,9.3 311.8,6.9 313.0,6.5 314.2,6.3 315.3,6.3 316.5,6.5 317.7,6.6 318.9,6.6 320.1,6.5 321.3,6.4 322.5,6.9 323.7,8.0 324.9,9.3 326.1,10.1 327.2,10.4 328.4,9.9 329.6,9.1 330.8,8.8 332.0,9.4 333.2,10.7 334.4,12.6 335.6,16.0 336.8,21.1 338.0,29.3 339.1,39.9 340.3,53.1 341.5,62.9 342.7,69.3 343.9,72.7 345.1,75.5 346.3,76.1 347.5,73.2 348.7,68.2 349.9,61.2 351.0,52.0 352.2,41.4 353.4,36.5 354.6,38.2 355.8,46.3 357.0,54.7 358.2,64.5 359.4,73.1 360.6,77.7 361.8,77.4 362.9,74.7 364.1,72.4 365.3,70.3 366.5,69.2 367.7,69.2 368.9,70.3 370.1,72.1 371.3,74.5 372.5,77.4 373.7,78.9 374.8,79.1 376.0,77.9 377.2,76.6 378.4,75.1 379.6,73.4 380.8,72.3 382.0,70.9 383.2,71.1 384.4,72.2 385.6,75.7 386.7,79.8 387.9,84.5 389.1,87.6 390.3,88.8 391.5,87.7 392.7,85.9 393.9,83.3 395.1,81.0 396.3,79.2 397.5,78.1 398.6,78.7 399.8,80.8 401.0,83.4 402.2,85.2 403.4,85.9 404.6,85.7 405.8,84.7 407.0,82.5 408.2,79.3 409.4,74.5 410.5,67.5 411.7,59.7 412.9,52.9 414.1,50.2 415.3,50.7 416.5,53.2 417.7,54.4 418.9,54.2 420.1,52.6 421.3,51.0 422.4,49.4 423.6,48.3 424.8,47.6 426.0,47.2 427.2,46.1 428.4,42.5 429.6,36.3 430.8,28.2 432.0,19.8 433.2,13.0 434.3,9.5 435.5,10.5 436.7,14.1 437.9,19.2 439.1,24.8 440.3,30.6 441.5,34.9 442.7,37.7 443.9,39.2 445.1,40.4 446.2,41.5 447.4,42.4 448.6,44.2 449.8,46.7 451.0,50.7 452.2,56.0 453.4,62.4 454.6,69.0 455.8,74.4 457.0,77.1 458.1,72.2 459.3,62.1 460.5,50.4 461.7,43.8 462.9,41.2 464.1,42.9 465.3,47.3 466.5,51.4 467.7,52.7 468.9,51.1 470.0,48.5 471.2,43.9 472.4,37.5 473.6,30.2 474.8,22.9 476.0,16.9 477.2,13.1 478.4,11.8 479.6,11.7 480.8,11.4 481.9,11.0 483.1,10.4 484.3,9.8 485.5,9.5 486.7,10.1 487.9,11.1 489.1,11.7 490.3,11.4 491.5,10.7 492.7,10.4 493.8,10.5 495.0,16.1 496.2,26.4 497.4,39.5 498.6,49.3 499.8,55.1 501.0,58.2 502.2,58.7 503.4,57.7 504.6,56.4 505.7,55.4 506.9,54.9 508.1,56.5 509.3,60.4 510.5,67.1 511.7,74.9 512.9,81.7 514.1,85.2 515.3,85.4 516.5,83.9 517.6,80.7 518.8,75.7 520.0,69.2 521.2,62.7 522.4,55.8 523.6,49.5 524.8,46.0 526.0,45.9 527.2,48.3 528.4,50.8 529.5,52.8 530.7,53.6 531.9,51.3 533.1,45.6 534.3,39.5 535.5,35.3 536.7,35.4 537.9,37.1 539.1,42.9 540.3,52.6" fill="none" stroke="#000" stroke-width="1" stroke-dasharray="3 3"/>
<polyline points="0.0,191.7 1.2,191.2 2.4,190.3 3.6,189.1 4.8,187.6 5.9,185.7 7.1,183.5 8.3,181.8 9.5,180.3 10.7,179.1 11.9,178.2 13.1,177.3 14.3,176.7 15.5,176.2 16.7,175.8 17.8,175.5 19.0,175.2 20.2,175.0 21.4,174.7 22.6,174.0 23.8,173.0 25.0,172.0 26.2,171.1 27.4,170.3 28.6,169.5 29.8,168.6 30.9,167.7 32.1,166.7 33.3,166.1 34.5,165.8 35.7,165.7 36.9,165.8 38.1,166.0 39.3,166.1 40.5,166.1 41.6,165.9 42.8,165.8 44.0,165.7 45.2,165.6 46.4,165.6 47.6,165.6 48.8,165.6 50.0,165.6 51.2,165.8 52.4,166.2 53.5,166.9 54.7,167.6 55.9,168.2 57.1,168.7 58.3,169.3 59.5,169.7 60.7,170.1 61.9,170.5 63.1,170.9 64.3,171.3 65.4,171.8 66.6,172.3 67.8,172.7 69.0,173.0 70.2,173.0 71.4,172.6 72.6,171.5 73.8,169.5 75.0,167.0 76.2,164.7 77.3,162.7 78.5,160.8 79.7,159.1 80.9,157.6 82.1,156.2 83.3,155.1 84.5,154.0 85.7,153.2 86.9,152.2 88.1,151.2 89.2,150.2 90.4,149.1 91.6,148.2 92.8,147.6 94.0,147.2 95.2,147.1 96.4,147.0 97.6,146.8 98.8,146.3 100.0,145.5 101.1,144.7 102.3,144.3 103.5,144.3 104.7,144.5 105.9,144.8 107.1,145.2 108.3,145.6 109.5,146.2 110.7,146.7 111.9,147.1 113.0,147.5 114.2,147.9 115.4,148.5 116.6,149.4 117.8,150.5 119.0,152.1 120.2,154.2 121.4,156.0 122.6,157.5 123.8,158.8 124.9,160.2 126.1,161.7 127.3,163.3 128.5,165.4 129.7,167.4 130.9,169.0 132.1,169.5 133.3,168.2 134.5,165.8 135.7,162.6 136.8,159.0 138.0,155.3 139.2,151.5 140.4,147.9 141.6,144.5 142.8,141.8 144.0,139.5 145.2,137.7 146.4,135.9 147.6,134.1 148.7,132.6 149.9,131.3 151.1,130.2 152.3,129.4 153.5,129.2 154.7,129.5 155.9,130.1 157.1,131.1 158.3,132.3 159.5,133.7 160.6,134.8 161.8,135.6 163.0,136.2 164.2,136.3 165.4,136.2 166.6,135.8 167.8,134.7 169.0,132.9 170.2,130.7 171.4,128.8 172.5,127.1 173.7,125.8 174.9,124.6 176.1,123.3 177.3,122.1 178.5,121.6 179.7,121.6 180.9,122.3 182.1,123.5 183.3,125.1 184.4,127.1 185.6,129.4 186.8,130.7 188.0,131.2 189.2,131.4 190.4,131.2 191.6,131.6 192.8,132.4 194.0,133.6 195.2,135.2 196.3,137.2 197.5,139.5 198.7,142.3 199.9,145.5 201.1,149.5 202.3,154.3 203.5,159.0 204.7,163.2 205.9,166.6 207.1,169.3 208.2,171.5 209.4,173.3 210.6,175.7 211.8,178.6 213.0,181.5 214.2,184.2 215.4,186.8 216.6,188.3 217.8,188.3 219.0,187.2 220.1,185.9 221.3,184.4 222.5,182.8 223.7,180.9 224.9,178.6 226.1,176.1 227.3,173.3 228.5,171.0 229.7,168.9 230.9,167.0 232.0,165.3 233.2,163.8 234.4,162.5 235.6,161.4 236.8,160.8 238.0,160.8 239.2,161.2 240.4,161.8 241.6,162.5 242.8,163.1 243.9,163.7 245.1,164.2 246.3,164.4 247.5,164.4 248.7,164.1 249.9,163.7 251.1,163.4 252.3,163.1 253.5,163.0 254.7,162.9 255.8,162.8 257.0,162.6 258.2,162.5 259.4,162.5 260.6,162.7 261.8,163.2 263.0,163.8 264.2,164.1 265.4,163.9 266.6,163.3 267.7,162.3 268.9,161.7 270.1,161.3 271.3,161.2 272.5,161.2 273.7,161.5 274.9,162.3 276.1,163.5 277.3,164.9 278.5,166.3 279.6,167.5 280.8,168.5 282.0,169.4 283.2,170.1 284.4,170.9 285.6,172.0 286.8,172.9 288.0,173.6 289.2,174.1 290.4,174.2 291.5,174.0 292.7,173.5 293.9,172.8 295.1,172.6 296.3,172.7 297.5,173.2 298.7,174.3 299.9,175.3 301.1,176.2 302.3,176.9 303.4,177.4 304.6,177.4 305.8,176.1 307.0,173.7 308.2,170.5 309.4,166.9 310.6,163.6 311.8,160.2 313.0,156.2 314.2,152.1 315.3,148.3 316.5,144.7 317.7,141.7 318.9,139.3 320.1,137.3 321.3,136.1 322.5,135.7 323.7,135.7 324.9,135.8 326.1,136.0 327.2,136.3 328.4,136.8 329.6,137.6 330.8,138.6 332.0,139.5 333.2,140.1 334.4,140.7 335.6,141.8 336.8,143.4 338.0,145.3 339.1,147.6 340.3,150.1 341.5,152.6 342.7,154.9 343.9,157.4 345.1,160.0 346.3,162.1 347.5,163.5 348.7,164.5 349.9,165.1 351.0,165.1 352.2,164.5 353.4,164.9 354.6,165.9 355.8,167.3 357.0,168.7 358.2,170.4 359.4,172.3 360.6,174.3 361.8,176.1 362.9,177.7 364.1,179.1 365.3,180.5 366.5,181.7 367.7,183.0 368.9,184.2 370.1,185.4 371.3,186.8 372.5,188.1 373.7,189.3 374.8,190.2 376.0,191.1 377.2,191.8 378.4,192.2 379.6,192.5 380.8,192.8 382.0,193.0 383.2,193.4 384.4,194.1 385.6,195.2 386.7,196.6 387.9,198.7 389.1,201.4 390.3,204.8 391.5,208.4 392.7,211.3 393.9,213.8 395.1,215.9 396.3,217.9 397.5,219.8 398.6,221.6 399.8,223.2 401.0,224.5 402.2,225.7 403.4,227.8 404.6,231.0 405.8,235.5 407.0,239.4 408.2,241.9 409.4,242.7 410.5,242.1 411.7,241.5 412.9,241.0 414.1,240.5 415.3,239.7 416.5,238.8 417.7,237.6 418.9,236.0 420.1,234.0 421.3,232.2 422.4,230.5 423.6,229.0 424.8,227.4 426.0,225.6 427.2,223.2 428.4,219.5 429.6,214.8 430.8,209.2 432.0,202.7 433.2,196.1 434.3,190.4 435.5,185.8 436.7,182.1 437.9,179.2 439.1,177.2 440.3,175.8 441.5,174.7 442.7,173.8 443.9,173.1 445.1,173.1 446.2,173.1 447.4,173.2 448.6,173.3 449.8,173.6 451.0,174.0 452.2,174.6 453.4,175.1 454.6,175.6 455.8,175.7 457.0,175.6 458.1,175.2 459.3,174.5 460.5,173.9 461.7,173.4 462.9,173.3 464.1,173.3 465.3,173.3 466.5,173.2 467.7,173.2 468.9,173.1 470.0,172.8 471.2,172.3 472.4,171.7 473.6,170.8 474.8,169.2 476.0,167.4 477.2,165.6 478.4,164.0 479.6,161.8 480.8,159.4 481.9,157.2 483.1,155.3 484.3,153.6 485.5,152.1 486.7,150.8 487.9,149.7 489.1,148.7 490.3,147.8 491.5,147.3 492.7,147.2 493.8,147.8 495.0,149.5 496.2,152.5 497.4,155.2 498.6,157.7 499.8,160.3 501.0,162.9 502.2,165.3 503.4,167.3 504.6,169.0 505.7,170.3 506.9,171.7 508.1,173.2 509.3,175.3 510.5,178.1 511.7,181.2 512.9,184.3 514.1,187.1 515.3,189.4 516.5,191.4 517.6,192.3 518.8,192.4 520.0,192.3 521.2,191.9 522.4,191.1 523.6,190.0 524.8,188.8 526.0,187.9 527.2,187.1 528.4,186.5 529.5,185.9 530.7,185.4 531.9,184.8 533.1,183.9 534.3,182.9 535.5,182.2 536.7,182.1 537.9,182.6 539.1,183.5 540.3,184.8" fill="none" stroke="#ff0000" stroke-width="1" stroke-dasharray="3 3"/>
<polyline points="0.0,191.7 3.2,185.3 7.2,174.8 13.6,174.0 20.9,174.3 24.1,168.4 28.1,166.8 32.1,162.8 34.5,164.7 38.2,166.8 42.5,165.2 50.6,165.7 53.8,170.0 57.8,171.1 63.4,172.4 66.6,174.3 69.8,174.0 72.2,169.2 74.6,157.2 77.8,154.0 81.9,150.7 85.9,149.6 90.7,144.3 94.7,145.9 95.0,146.7 97.4,146.4 100.6,141.1 104.6,145.1 109.4,148.3 113.9,149.1 117.5,154.0 120.4,162.8 123.9,164.1 127.1,169.2 129.0,175.3 131.6,175.3 133.5,161.2 135.9,148.3 139.1,136.3 141.5,131.0 145.1,130.4 148.0,126.7 152.0,125.5 155.2,131.5 159.2,139.0 162.4,139.0 166.4,134.7 170.4,121.1 174.5,120.2 177.3,117.0 180.1,122.7 183.0,130.7 185.7,138.7 188.1,133.1 189.7,131.5 190.0,129.9 193.2,136.3 197.2,147.5 200.4,160.4 202.0,172.4 204.1,180.1 209.3,180.1 212.5,192.5 216.0,197.8 218.6,183.7 222.9,175.6 227.2,162.5 230.9,159.6 233.7,157.2 236.2,157.2 238.2,161.2 241.0,165.2 245.4,166.3 249.7,162.0 254.2,162.5 259.0,162.0 263.5,166.8 267.8,158.3 273.5,162.0 276.7,170.0 279.1,172.4 283.1,172.7 284.7,174.8 285.0,176.4 289.0,176.4 293.8,170.0 297.0,174.0 299.1,179.6 304.3,179.6 306.7,166.0 309.1,153.2 311.5,148.3 313.6,137.1 316.8,129.9 320.0,129.1 323.5,135.8 327.1,137.1 331.5,143.5 334.0,141.9 337.2,150.7 340.4,160.4 342.8,164.4 345.2,170.8 350.0,167.6 352.1,162.0 354.8,170.8 358.0,176.4 360.1,182.0 363.7,184.5 368.5,188.5 372.5,193.6 377.3,194.6 379.7,193.6 380.0,193.6 382.9,194.2 386.7,201.9 389.3,213.2 391.2,222.8 394.4,223.6 398.9,229.2 402.5,230.5 404.4,242.0 406.2,256.8 408.1,252.5 410.5,239.6 413.7,238.8 417.2,234.0 420.1,226.0 424.1,222.5 426.9,216.4 429.0,200.3 430.5,190.0 431.4,180.1 432.9,170.5 433.9,167.8 437.2,167.1 440.6,170.5 443.5,170.0 445.4,173.4 449.3,173.8 451.7,176.7 454.6,177.4 457.5,174.8 458.9,171.9 460.8,171.2 464.2,173.4 468.5,172.9 471.4,170.5 473.8,167.1 475.3,160.8 478.7,157.0 480.1,150.7 482.5,147.8 485.9,145.9 487.8,145.4 490.0,144.0 493.0,147.1 494.6,153.2 496.2,164.4 499.1,168.4 501.5,174.8 506.3,175.9 508.7,180.4 510.6,190.1 512.7,196.8 516.4,199.7 518.7,193.0 521.5,190.1 524.0,184.5 528.0,184.0 531.2,183.3 534.7,178.0 537.6,183.7 540.8,191.4" fill="none" stroke="#ff0000" stroke-width="2" stroke-linejoin="round"/>
<path d="M0 668h1v8h-1zM1 668h1v8h-1zM2 668h1v8h-1zM3 670h1v6h-1zM4 669h1v7h-1zM5 670h1v6h-1zM6 669h1v7h-1zM7 669h1v7h-1zM8 666h1v10h-1zM9 666h1v10h-1zM10 669h1v7h-1zM11 670h1v6h-1zM12 667h1v9h-1zM13 667h1v9h-1zM14 671h1v5h-1zM15 670h1v6h-1zM16 670h1v6h-1zM17 671h1v5h-1zM18 670h1v6h-1zM19 670h1v6h-1zM20 672h1v4h-1zM21 670h1v6h-1zM22 666h1v10h-1zM23 666h1v10h-1zM24 673h1v3h-1zM25 666h1v10h-1zM26 671h1v5h-1zM27 671h1v5h-1zM28 665h1v11h-1zM29 665h1v11h-1zM30 672h1v4h-1zM31 671h1v5h-1zM32 673h1v3h-1zM33 672h1v4h-1zM34 672h1v4h-1zM35 671h1v5h-1zM36 671h1v5h-1zM37 671h1v5h-1zM38 671h1v5h-1zM39 671h1v5h-1zM40 667h1v9h-1zM41 667h1v9h-1zM42 671h1v5h-1zM43 672h1v4h-1zM44 672h1v4h-1zM45 671h1v5h-1zM46 671h1v5h-1zM47 668h1v8h-1zM48 668h1v8h-1zM49 671h1v5h-1zM50 671h1v5h-1zM51 667h1v9h-1zM52 667h1v9h-1zM53 672h1v4h-1zM54 672h1v4h-1zM55 674h1v2h-1zM56 672h1v4h-1zM57 672h1v4h-1zM58 672h1v4h-1zM59 672h1v4h-1zM60 673h1v3h-1zM61 673h1v3h-1zM62 673h1v3h-1zM63 672h1v4h-1zM64 672h1v4h-1zM65 672h1v4h-1zM66 672h1v4h-1zM67 672h1v4h-1zM68 673h1v3h-1zM69 672h1v4h-1zM70 657h1v19h-1zM71 657h1v19h-1zM72 669h1v7h-1zM73 669h1v7h-1zM74 671h1v5h-1zM75 671h1v5h-1zM76 672h1v4h-1zM77 672h1v4h-1zM78 670h1v6h-1zM79 672h1v4h-1zM80 667h1v9h-1zM81 667h1v9h-1zM82 665h1v11h-1zM83 665h1v11h-1zM84 670h1v6h-1zM85 670h1v6h-1zM86 670h1v6h-1zM87 666h1v10h-1zM88 666h1v10h-1zM89 669h1v7h-1zM90 669h1v7h-1zM91 668h1v8h-1zM92 665h1v11h-1zM93 665h1v11h-1zM94 665h1v11h-1zM95 670h1v6h-1zM96 669h1v7h-1zM97 663h1v13h-1zM98 663h1v13h-1zM99 667h1v9h-1zM100 668h1v8h-1zM101 661h1v15h-1zM102 661h1v15h-1zM103 666h1v10h-1zM104 666h1v10h-1zM105 666h1v10h-1zM106 666h1v10h-1zM107 667h1v9h-1zM108 666h1v10h-1zM109 669h1v7h-1zM110 667h1v9h-1zM111 667h1v9h-1zM112 669h1v7h-1zM113 667h1v9h-1zM114 667h1v9h-1zM115 667h1v9h-1zM116 667h1v9h-1zM117 668h1v8h-1zM118 668h1v8h-1zM119 668h1v8h-1zM120 669h1v7h-1zM121 669h1v7h-1zM122 669h1v7h-1zM123 670h1v6h-1zM124 666h1v10h-1zM125 666h1v10h-1zM126 666h1v10h-1zM127 662h1v14h-1zM128 662h1v14h-1zM129 669h1v7h-1zM130 671h1v5h-1zM131 651h1v25h-1zM132 651h1v25h-1zM133 661h1v15h-1zM134 667h1v9h-1zM135 667h1v9h-1zM136 667h1v9h-1zM137 667h1v9h-1zM138 669h1v7h-1zM139 667h1v9h-1zM140 667h1v9h-1zM141 667h1v9h-1zM142 667h1v9h-1zM143 667h1v9h-1zM144 667h1v9h-1zM145 667h1v9h-1zM146 667h1v9h-1zM147 667h1v9h-1zM148 667h1v9h-1zM149 666h1v10h-1zM150 664h1v12h-1zM151 664h1v12h-1zM152 668h1v8h-1zM153 643h1v33h-1zM154 643h1v33h-1zM155 666h1v10h-1zM156 660h1v16h-1zM157 660h1v16h-1zM158 666h1v10h-1zM159 665h1v11h-1zM160 656h1v20h-1zM161 656h1v20h-1zM162 659h1v17h-1zM163 659h1v17h-1zM164 664h1v12h-1zM165 664h1v12h-1zM166 661h1v15h-1zM167 661h1v15h-1zM168 648h1v28h-1zM169 648h1v28h-1zM170 655h1v21h-1zM171 661h1v15h-1zM172 661h1v15h-1zM173 652h1v24h-1zM174 652h1v24h-1zM175 650h1v26h-1zM176 650h1v26h-1zM177 642h1v34h-1zM178 642h1v34h-1zM179 642h1v34h-1zM180 658h1v18h-1zM181 658h1v18h-1zM182 658h1v18h-1zM183 658h1v18h-1zM184 658h1v18h-1zM185 657h1v19h-1zM186 656h1v20h-1zM187 656h1v20h-1zM188 657h1v19h-1zM189 656h1v20h-1zM190 652h1v24h-1zM191 652h1v24h-1zM192 658h1v18h-1zM193 659h1v17h-1zM194 665h1v11h-1zM195 665h1v11h-1zM196 665h1v11h-1zM197 659h1v17h-1zM198 649h1v27h-1zM199 649h1v27h-1zM200 658h1v18h-1zM201 658h1v18h-1zM202 660h1v16h-1zM203 666h1v10h-1zM204 666h1v10h-1zM205 662h1v14h-1zM206 665h1v11h-1zM207 665h1v11h-1zM208 665h1v11h-1zM209 663h1v13h-1zM210 651h1v25h-1zM211 650h1v26h-1zM212 650h1v26h-1zM213 659h1v17h-1zM214 659h1v17h-1zM215 662h1v14h-1zM216 661h1v15h-1zM217 661h1v15h-1zM218 661h1v15h-1zM219 663h1v13h-1zM220 665h1v11h-1zM221 665h1v11h-1zM222 664h1v12h-1zM223 664h1v12h-1zM224 665h1v11h-1zM225 661h1v15h-1zM226 661h1v15h-1zM227 664h1v12h-1zM228 664h1v12h-1zM229 667h1v9h-1zM230 667h1v9h-1zM231 667h1v9h-1zM232 667h1v9h-1zM233 666h1v10h-1zM234 667h1v9h-1zM235 666h1v10h-1zM236 657h1v19h-1zM237 657h1v19h-1zM238 666h1v10h-1zM239 667h1v9h-1zM240 666h1v10h-1zM241 666h1v10h-1zM242 666h1v10h-1zM243 667h1v9h-1zM244 667h1v9h-1zM245 662h1v14h-1zM246 662h1v14h-1zM247 662h1v14h-1zM248 662h1v14h-1zM249 669h1v7h-1zM250 668h1v8h-1zM251 667h1v9h-1zM252 665h1v11h-1zM253 666h1v10h-1zM254 666h1v10h-1zM255 668h1v8h-1zM256 665h1v11h-1zM257 666h1v10h-1zM258 670h1v6h-1zM259 670h1v6h-1zM260 670h1v6h-1zM261 667h1v9h-1zM262 667h1v9h-1zM263 668h1v8h-1zM264 669h1v7h-1zM265 651h1v25h-1zM266 651h1v25h-1zM267 662h1v14h-1zM268 662h1v14h-1zM269 667h1v9h-1zM270 667h1v9h-1zM271 667h1v9h-1zM272 668h1v8h-1zM273 667h1v9h-1zM274 661h1v15h-1zM275 661h1v15h-1zM276 667h1v9h-1zM277 667h1v9h-1zM278 669h1v7h-1zM279 669h1v7h-1zM280 669h1v7h-1zM281 669h1v7h-1zM282 669h1v7h-1zM283 669h1v7h-1zM284 669h1v7h-1zM285 669h1v7h-1zM286 669h1v7h-1zM287 668h1v8h-1zM288 666h1v10h-1zM289 666h1v10h-1zM290 662h1v14h-1zM291 662h1v14h-1zM292 670h1v6h-1zM293 669h1v7h-1zM294 668h1v8h-1zM295 659h1v17h-1zM296 659h1v17h-1zM297 657h1v19h-1zM298 655h1v21h-1zM299 655h1v21h-1zM300 667h1v9h-1zM301 668h1v8h-1zM302 666h1v10h-1zM303 666h1v10h-1zM304 651h1v25h-1zM305 651h1v25h-1zM306 647h1v29h-1zM307 647h1v29h-1zM308 659h1v17h-1zM309 664h1v12h-1zM310 664h1v12h-1zM311 664h1v12h-1zM312 664h1v12h-1zM313 664h1v12h-1zM314 664h1v12h-1zM315 664h1v12h-1zM316 664h1v12h-1zM317 664h1v12h-1zM318 664h1v12h-1zM319 662h1v14h-1zM320 664h1v12h-1zM321 664h1v12h-1zM322 664h1v12h-1zM323 664h1v12h-1zM324 669h1v7h-1zM325 669h1v7h-1zM326 669h1v7h-1zM327 669h1v7h-1zM328 669h1v7h-1zM329 669h1v7h-1zM330 669h1v7h-1zM331 666h1v10h-1zM332 666h1v10h-1zM333 669h1v7h-1zM334 667h1v9h-1zM335 667h1v9h-1zM336 667h1v9h-1zM337 667h1v9h-1zM338 667h1v9h-1zM339 668h1v8h-1zM340 669h1v7h-1zM341 667h1v9h-1zM342 667h1v9h-1zM343 668h1v8h-1zM344 668h1v8h-1zM345 668h1v8h-1zM346 667h1v9h-1zM347 668h1v8h-1zM348 667h1v9h-1zM349 668h1v8h-1zM350 658h1v18h-1zM351 658h1v18h-1zM352 644h1v32h-1zM353 644h1v32h-1zM354 662h1v14h-1zM355 662h1v14h-1zM356 667h1v9h-1zM357 665h1v11h-1zM358 656h1v20h-1zM359 656h1v20h-1zM360 665h1v11h-1zM361 666h1v10h-1zM362 665h1v11h-1zM363 665h1v11h-1zM364 666h1v10h-1zM365 666h1v10h-1zM366 665h1v11h-1zM367 665h1v11h-1zM368 657h1v19h-1zM369 657h1v19h-1zM370 657h1v19h-1zM371 660h1v16h-1zM372 660h1v16h-1zM373 664h1v12h-1zM374 665h1v11h-1zM375 665h1v11h-1zM376 665h1v11h-1zM377 667h1v9h-1zM378 666h1v10h-1zM379 660h1v16h-1zM380 661h1v15h-1zM381 661h1v15h-1zM382 661h1v15h-1zM383 661h1v15h-1zM384 661h1v15h-1zM385 666h1v10h-1zM386 636h1v40h-1zM387 636h1v40h-1zM388 663h1v13h-1zM389 631h1v45h-1zM390 631h1v45h-1zM391 656h1v20h-1zM392 660h1v16h-1zM393 660h1v16h-1zM394 660h1v16h-1zM395 652h1v24h-1zM396 652h1v24h-1zM397 659h1v17h-1zM398 660h1v16h-1zM399 657h1v19h-1zM400 657h1v19h-1zM401 658h1v18h-1zM402 647h1v29h-1zM403 623h1v53h-1zM404 623h1v53h-1zM405 634h1v42h-1zM406 634h1v42h-1zM407 673h1v3h-1zM408 629h1v47h-1zM409 629h1v47h-1zM410 651h1v25h-1zM411 632h1v44h-1zM412 632h1v44h-1zM413 652h1v24h-1zM414 652h1v24h-1zM415 657h1v19h-1zM416 653h1v23h-1zM417 653h1v23h-1zM418 652h1v24h-1zM419 658h1v18h-1zM420 665h1v11h-1zM421 665h1v11h-1zM422 652h1v24h-1zM423 658h1v18h-1zM424 658h1v18h-1zM425 653h1v23h-1zM426 645h1v31h-1zM427 645h1v31h-1zM428 655h1v21h-1zM429 655h1v21h-1zM430 655h1v21h-1zM431 646h1v30h-1zM432 646h1v30h-1zM433 657h1v19h-1zM434 657h1v19h-1zM435 651h1v25h-1zM436 658h1v18h-1zM437 661h1v15h-1zM438 661h1v15h-1zM439 661h1v15h-1zM440 658h1v18h-1zM441 664h1v12h-1zM442 664h1v12h-1zM443 659h1v17h-1zM444 666h1v10h-1zM445 666h1v10h-1zM446 666h1v10h-1zM447 666h1v10h-1zM448 666h1v10h-1zM449 660h1v16h-1zM450 660h1v16h-1zM451 661h1v15h-1zM452 663h1v13h-1zM453 663h1v13h-1zM454 663h1v13h-1zM455 663h1v13h-1zM456 664h1v12h-1zM457 656h1v20h-1zM458 656h1v20h-1zM459 659h1v17h-1zM460 659h1v17h-1zM461 662h1v14h-1zM462 662h1v14h-1zM463 664h1v12h-1zM464 664h1v12h-1zM465 661h1v15h-1zM466 661h1v15h-1zM467 664h1v12h-1zM468 664h1v12h-1zM469 659h1v17h-1zM470 659h1v17h-1zM471 665h1v11h-1zM472 663h1v13h-1zM473 644h1v32h-1zM474 644h1v32h-1zM475 657h1v19h-1zM476 657h1v19h-1zM477 646h1v30h-1zM478 646h1v30h-1zM479 649h1v27h-1zM480 649h1v27h-1zM481 660h1v16h-1zM482 660h1v16h-1zM483 660h1v16h-1zM484 655h1v21h-1zM485 658h1v18h-1zM486 658h1v18h-1zM487 658h1v18h-1zM488 658h1v18h-1zM489 658h1v18h-1zM490 663h1v13h-1zM491 663h1v13h-1zM492 658h1v18h-1zM493 636h1v40h-1zM494 636h1v40h-1zM495 657h1v19h-1zM496 649h1v27h-1zM497 649h1v27h-1zM498 664h1v12h-1zM499 648h1v28h-1zM500 648h1v28h-1zM501 647h1v29h-1zM502 647h1v29h-1zM503 652h1v24h-1zM504 649h1v27h-1zM505 649h1v27h-1zM506 623h1v53h-1zM507 623h1v53h-1zM508 630h1v46h-1zM509 630h1v46h-1zM510 645h1v31h-1zM511 627h1v49h-1zM512 627h1v49h-1zM513 645h1v31h-1zM514 645h1v31h-1zM515 659h1v17h-1zM516 647h1v29h-1zM517 628h1v48h-1zM518 628h1v48h-1zM519 648h1v28h-1zM520 648h1v28h-1zM521 652h1v24h-1zM522 652h1v24h-1zM523 649h1v27h-1zM524 649h1v27h-1zM525 649h1v27h-1zM526 659h1v17h-1zM527 657h1v19h-1zM528 657h1v19h-1zM529 657h1v19h-1zM530 641h1v35h-1zM531 633h1v43h-1zM532 627h1v49h-1zM533 627h1v49h-1zM534 619h1v57h-1zM535 619h1v57h-1zM536 636h1v40h-1zM537 631h1v45h-1zM538 631h1v45h-1zM539 653h1v23h-1zM540 657h1v19h-1zM541 657h1v19h-1z" fill="#008000"/>
<polyline points="0.0,668.1 8.0,668.6 16.1,669.7 24.1,670.4 48.2,670.4 51.4,671.3 70.6,671.3 77.0,670.4 85.1,669.7 91.5,668.1 94.7,667.5 95.0,667.8 101.4,666.5 107.0,665.9 109.4,666.5 114.3,667.0 119.1,667.5 121.5,669.1 126.3,669.7 129.5,669.1 135.1,667.0 146.4,666.5 151.2,666.2 159.2,665.4 165.6,663.3 170.4,661.4 175.3,659.0 180.1,656.9 186.5,656.5 189.7,655.9 190.0,655.7 194.8,656.9 200.4,657.4 204.4,659.8 209.3,661.7 213.3,661.0 218.9,662.2 223.7,663.8 230.1,664.3 235.7,666.2 244.6,666.2 251.0,666.5 255.8,665.9 260.6,666.5 264.6,667.8 268.7,666.5 275.1,667.0 281.5,667.8 284.7,667.5 285.0,667.5 288.2,668.1 292.2,668.6 297.8,667.5 302.7,666.2 307.5,664.6 311.5,662.2 320.3,662.2 327.5,663.0 331.5,665.9 336.4,666.7 346.0,667.0 350.8,667.5 355.6,664.9 368.5,664.9 372.5,663.8 377.3,665.4 379.7,665.7 380.0,664.9 382.4,666.2 386.4,664.6 392.0,660.1 397.7,659.0 403.3,657.4 406.5,653.3 411.3,651.7 424.9,652.1 428.2,655.3 434.6,656.5 441.0,658.2 449.0,659.0 452.2,661.7 457.0,663.8 469.9,663.8 474.7,662.2 475.0,661.7 479.8,659.8 486.2,658.5 492.7,657.4 497.5,655.7 504.7,655.7 508.7,652.1 513.5,647.7 518.3,646.9 524.8,646.1 528.8,648.5 532.8,649.3 536.8,648.2 540.0,647.2 541.6,648.2" fill="none" stroke="#ff0000" stroke-width="2" stroke-linejoin="round"/>
<rect x="575" y="0" width="1" height="99" fill="#000"/>
<rect x="575" y="103" width="1" height="168" fill="#000"/>
<rect x="575" y="275" width="1" height="335" fill="#000"/>
<rect x="575" y="614" width="1" height="66" fill="#000"/>
<rect x="576" y="93" width="8" height="1" fill="#000"/>
<rect x="576" y="83" width="3" height="1" fill="#000"/>
<rect x="576" y="74" width="3" height="1" fill="#000"/>
<rect x="576" y="64" width="3" height="1" fill="#000"/>
<rect x="576" y="55" width="3" height="1" fill="#000"/>
<rect x="576" y="45" width="8" height="1" fill="#000"/>
<rect x="576" y="36" width="3" height="1" fill="#000"/>
<rect x="576" y="26" width="3" height="1" fill="#000"/>
<rect x="576" y="17" width="3" height="1" fill="#000"/>
<rect x="576" y="7" width="3" height="1" fill="#000"/>
<rect x="576" y="109" width="8" height="1" fill="#000"/>
<rect x="576" y="115" width="3" height="1" fill="#000"/>
<rect x="576" y="122" width="8" height="1" fill="#000"/>
<rect x="576" y="129" width="3" height="1" fill="#000"/>
<rect x="576" y="135" width="8" height="1" fill="#000"/>
<rect x="576" y="142" width="3" height="1" fill="#000"/>
<rect x="576" y="148" width="8" height="1" fill="#000"/>
<rect x="576" y="155" width="3" height="1" fill="#000"/>
<rect x="576" y="162" width="8" height="1" fill="#000"/>
<rect x="576" y="168" width="3" height="1" fill="#000"/>
<rect x="576" y="175" width="8" height="1" fill="#000"/>
<rect x="576" y="182" width="3" height="1" fill="#000"/>
<rect x="576" y="188" width="8" height="1" fill="#000"/>
<rect x="576" y="195" width="3" height="1" fill="#000"/>
<rect x="576" y="201" width="8" height="1" fill="#000"/>
<rect x="576" y="208" width="3" height="1" fill="#000"/>
<rect x="576" y="215" width="8" height="1" fill="#000"/>
<rect x="576" y="221" width="3" height="1" fill="#000"/>
<rect x="576" y="228" width="8" height="1" fill="#000"/>
<rect x="576" y="235" width="3" height="1" fill="#000"/>
<rect x="576" y="241" width="8" height="1" fill="#000"/>
<rect x="576" y="248" width="3" height="1" fill="#000"/>
<rect x="576" y="254" width="8" height="1" fill="#000"/>
<rect x="576" y="261" width="3" height="1" fill="#000"/>
<rect x="576" y="268" width="8" height="1" fill="#000"/>
<rect x="576" y="276" width="3" height="1" fill="#000"/>
<rect x="576" y="280" width="3" height="1" fill="#000"/>
<rect x="576" y="283" width="3" height="1" fill="#000"/>
<rect x="576" y="286" width="8" height="1" fill="#000"/>
<rect x="576" y="289" width="3" height="1" fill="#000"/>
<rect x="576" y="292" width="3" height="1" fill="#000"/>
<rect x="576" y="296" width="3" height="1" fill="#000"/>
<rect x="576" y="299" width="3" height="1" fill="#000"/>
<rect x="576" y="302" width="8" height="1" fill="#000"/>
<rect x="576" y="305" width="3" height="1" fill="#000"/>
<rect x="576" y="309" width="3" height="1" fill="#000"/>
<rect x="576" y="312" width="3" height="1" fill="#000"/>
<rect x="576" y="315" width="3" height="1" fill="#000"/>
<rect x="576" y="318" width="8" height="1" fill="#000"/>
<rect x="576" y="321" width="3" height="1" fill="#000"/>
<rect x="576" y="325" width="3" height="1" fill="#000"/>
<rect x="576" y="328" width="3" height="1" fill="#000"/>
<rect x="576" y="331" width="3" height="1" fill="#000"/>
<rect x="576" y="334" width="8" height="1" fill="#000"/>
<rect x="576" y="338" width="3" height="1" fill="#000"/>
<rect x="576" y="341" width="3" height="1" fill="#000"/>
<rect x="576" y="344" width="3" height="1" fill="#000"/>
<rect x="576" y="347" width="3" height="1" fill="#000"/>
<rect x="576" y="350" width="8" height="1" fill="#000"/>
<rect x="576" y="354" width="3" height="1" fill="#000"/>
<rect x="576" y="357" width="3" height="1" fill="#000"/>
<rect x="576" y="360" width="3" height="1" fill="#000"/>
<rect x="576" y="363" width="3" height="1" fill="#000"/>
<rect x="576" y="367" width="8" height="1" fill="#000"/>
<rect x="576" y="370" width="3" height="1" fill="#000"/>
<rect x="576" y="373" width="3" height="1" fill="#000"/>
<rect x="576" y="376" width="3" height="1" fill="#000"/>
<rect x="576" y="379" width="3" height="1" fill="#000"/>
<rect x="576" y="383" width="8" height="1" fill="#000"/>
<rect x="576" y="386" width="3" height="1" fill="#000"/>
<rect x="576" y="389" width="3" height="1" fill="#000"/>
<rect x="576" y="392" width="3" height="1" fill="#000"/>
<rect x="576" y="396" width="3" height="1" fill="#000"/>
<rect x="576" y="399" width="8" height="1" fill="#000"/>
<rect x="576" y="402" width="3" height="1" fill="#000"/>
<rect x="576" y="405" width="3" height="1" fill="#000"/>
<rect x="576" y="408" width="3" height="1" fill="#000"/>
<rect x="576" y="412" width="3" height="1" fill="#000"/>
<rect x="576" y="415" width="8" height="1" fill="#000"/>
<rect x="576" y="418" width="3" height="1" fill="#000"/>
<rect x="576" y="421" width="3" height="1" fill="#000"/>
<rect x="576" y="425" width="3" height="1" fill="#000"/>
<rect x="576" y="428" width="3" height="1" fill="#000"/>
<rect x="576" y="431" width="8" height="1" fill="#000"/>
<rect x="576" y="434" width="3" height="1" fill="#000"/>
<rect x="576" y="437" width="3" height="1" fill="#000"/>
<rect x="576" y="441" width="3" height="1" fill="#000"/>
<rect x="576" y="444" width="3" height="1" fill="#000"/>
<rect x="576" y="447" width="8" height="1" fill="#000"/>
<rect x="576" y="450" width="3" height="1" fill="#000"/>
<rect x="576" y="454" width="3" height="1" fill="#000"/>
<rect x="576" y="457" width="3" height="1" fill="#000"/>
<rect x="576" y="460" width="3" height="1" fill="#000"/>
<rect x="576" y="463" width="8" height="1" fill="#000"/>
<rect x="576" y="466" width="3" height="1" fill="#000"/>
<rect x="576" y="470" width="3" height="1" fill="#000"/>
<rect x="576" y="473" width="3" height="1" fill="#000"/>
<rect x="576" y="476" width="3" height="1" fill="#000"/>
<rect x="576" y="479" width="8" height="1" fill="#000"/>
<rect x="576" y="483" width="3" height="1" fill="#000"/>
<rect x="576" y="486" width="3" height="1" fill="#000"/>
<rect x="576" y="489" width="3" height="1" fill="#000"/>
<rect x="576" y="492" width="3" height="1" fill="#000"/>
<rect x="576" y="495" width="8" height="1" fill="#000"/>
<rect x="576" y="499" width="3" height="1" fill="#000"/>
<rect x="576" y="502" width="3" height="1" fill="#000"/>
<rect x="576" y="505" width="3" height="1" fill="#000"/>
<rect x="576" y="508" width="3" height="1" fill="#000"/>
<rect x="576" y="512" width="8" height="1" fill="#000"/>
<rect x="576" y="515" width="3" height="1" fill="#000"/>
<rect x="576" y="518" width="3" height="1" fill="#000"/>
<rect x="576" y="521" width="3" height="1" fill="#000"/>
<rect x="576" y="525" width="3" height="1" fill="#000"/>
<rect x="576" y="528" width="8" height="1" fill="#000"/>
<rect x="576" y="531" width="3" height="1" fill="#000"/>
<rect x="576" y="534" width="3" height="1" fill="#000"/>
<rect x="576" y="537" width="3" height="1" fill="#000"/>
<rect x="576" y="541" width="3" height="1" fill="#000"/>
<rect x="576" y="544" width="8" height="1" fill="#000"/>
<rect x="576" y="547" width="3" height="1" fill="#000"/>
<rect x="576" y="550" width="3" height="1" fill="#000"/>
<rect x="576" y="554" width="3" height="1" fill="#000"/>
<rect x="576" y="557" width="3" height="1" fill="#000"/>
<rect x="576" y="560" width="8" height="1" fill="#000"/>
<rect x="576" y="563" width="3" height="1" fill="#000"/>
<rect x="576" y="566" width="3" height="1" fill="#000"/>
<rect x="576" y="570" width="3" height="1" fill="#000"/>
<rect x="576" y="573" width="3" height="1" fill="#000"/>
<rect x="576" y="576" width="8" height="1" fill="#000"/>
<rect x="576" y="579" width="3" height="1" fill="#000"/>
<rect x="576" y="583" width="3" height="1" fill="#000"/>
<rect x="576" y="586" width="3" height="1" fill="#000"/>
<rect x="576" y="589" width="3" height="1" fill="#000"/>
<rect x="576" y="592" width="8" height="1" fill="#000"/>
<rect x="576" y="595" width="3" height="1" fill="#000"/>
<rect x="576" y="599" width="3" height="1" fill="#000"/>
<rect x="576" y="602" width="3" height="1" fill="#000"/>
<rect x="576" y="605" width="3" height="1" fill="#000"/>
<rect x="576" y="608" width="8" height="1" fill="#000"/>
<rect x="576" y="615" width="3" height="1" fill="#000"/>
<rect x="576" y="627" width="8" height="1" fill="#000"/>
<rect x="576" y="639" width="3" height="1" fill="#000"/>
<rect x="576" y="651" width="8" height="1" fill="#000"/>
<rect x="576" y="663" width="3" height="1" fill="#000"/>
<text x="622.2" y="51" text-anchor="end" class="l">50</text>
<text x="622.2" y="128" text-anchor="end" class="l">4000</text>
<text x="622.2" y="141" text-anchor="end" class="l">3000</text>
<text x="622.2" y="154" text-anchor="end" class="l">2000</text>
<text x="622.2" y="168" text-anchor="end" class="l">1000</text>
<text x="622.2" y="181" text-anchor="end" class="l">0</text>
<text x="622.2" y="194" text-anchor="end" class="l">-1000</text>
<text x="622.2" y="207" text-anchor="end" class="l">-2000</text>
<text x="622.2" y="221" text-anchor="end" class="l">-3000</text>
<text x="622.2" y="234" text-anchor="end" class="l">-4000</text>
<text x="622.2" y="247" text-anchor="end" class="l">-5000</text>
<text x="622.2" y="260" text-anchor="end" class="l">-6000</text>
<text x="622.2" y="292" text-anchor="end" class="l">14000</text>
<text x="622.2" y="308" text-anchor="end" class="l">13500</text>
<text x="622.2" y="324" text-anchor="end" class="l">13000</text>
<text x="622.2" y="340" text-anchor="end" class="l">12500</text>
<text x="622.2" y="356" text-anchor="end" class="l">12000</text>
<text x="622.2" y="373" text-anchor="end" class="l">11500</text>
<text x="622.2" y="389" text-anchor="end" class="l">11000</text>
<text x="622.2" y="405" text-anchor="end" class="l">10500</text>
<text x="622.2" y="421" text-anchor="end" class="l">10000</text>
<text x="622.2" y="437" text-anchor="end" class="l">9500</text>
<text x="622.2" y="453" text-anchor="end" class="l">9000</text>
<text x="622.2" y="469" text-anchor="end" class="l">8500</text>
<text x="622.2" y="485" text-anchor="end" class="l">8000</text>
<text x="622.2" y="501" text-anchor="end" class="l">7500</text>
<text x="622.2" y="518" text-anchor="end" class="l">7000</text>
<text x="622.2" y="534" text-anchor="end" class="l">6500</text>
<text x="622.2" y="550" text-anchor="end" class="l">6000</text>
<text x="622.2" y="566" text-anchor="end" class="l">5500</text>
<text x="622.2" y="582" text-anchor="end" class="l">5000</text>
<text x="622.2" y="598" text-anchor="end" class="l">4500</text>
<text x="622.2" y="633" text-anchor="end" class="l">20000</text>
<text x="622.2" y="657" text-anchor="end" class="l">10000</text>
<rect x="580" y="414" width="41" height="16" fill="#000"/>
<text x="600.5" y="426" text-anchor="middle" class="p">97500.0</text>
<rect x="577.5" y="597.5" width="18" height="13" fill="#fff" stroke="#000" stroke-width="1"/>
<rect x="0" y="610" width="623" height="1" fill="#f0f0f0"/>
<text x="578.6" y="607.4" class="s" textLength="15.9" lengthAdjust="spacingAndGlyphs">x10</text>
<rect x="577.5" y="667.5" width="28" height="14" fill="#fff" stroke="#000" stroke-width="1"/>
<text x="578.6" y="677.4" class="s" textLength="25.6" lengthAdjust="spacingAndGlyphs">x1000</text>
<rect x="0" y="680" width="575" height="1" fill="#000"/>
<rect x="21" y="680" width="1" height="16" fill="#000"/>
<rect x="45" y="680" width="1" height="16" fill="#000"/>
<rect x="89" y="680" width="1" height="16" fill="#000"/>
<rect x="113" y="680" width="1" height="16" fill="#000"/>
<rect x="135" y="680" width="1" height="16" fill="#000"/>
<rect x="161" y="680" width="1" height="16" fill="#000"/>
<rect x="184" y="680" width="1" height="16" fill="#000"/>
<rect x="210" y="680" width="1" height="16" fill="#000"/>
<rect x="236" y="680" width="1" height="16" fill="#000"/>
<rect x="257" y="680" width="1" height="16" fill="#000"/>
<rect x="284" y="680" width="1" height="16" fill="#000"/>
<rect x="308" y="680" width="1" height="16" fill="#000"/>
<rect x="334" y="680" width="1" height="16" fill="#000"/>
<rect x="376" y="680" width="1" height="16" fill="#000"/>
<rect x="400" y="680" width="1" height="16" fill="#000"/>
<rect x="424" y="680" width="1" height="16" fill="#000"/>
<rect x="447" y="680" width="1" height="16" fill="#000"/>
<rect x="471" y="680" width="1" height="16" fill="#000"/>
<rect x="497" y="680" width="1" height="16" fill="#000"/>
<rect x="522" y="680" width="1" height="16" fill="#000"/>
<rect x="545" y="680" width="1" height="16" fill="#000"/>
<rect x="571" y="680" width="1" height="16" fill="#000"/>
<rect x="71" y="681" width="1" height="1" fill="#000"/>
<rect x="353" y="681" width="1" height="1" fill="#000"/>
<text x="-2" y="694" class="l">N</text>
<text x="23" y="694" class="l">D</text>
<text x="47" y="694" class="l">2024</text>
<text x="91" y="694" class="l">M</text>
<text x="115" y="694" class="l">A</text>
<text x="137" y="694" class="l">M</text>
<text x="163" y="694" class="l">J</text>
<text x="186" y="694" class="l">J</text>
<text x="212" y="694" class="l">A</text>
<text x="238" y="694" class="l">S</text>
<text x="259" y="694" class="l">O</text>
<text x="286" y="694" class="l">N</text>
<text x="310" y="694" class="l">D</text>
<text x="336" y="694" class="l">2025</text>
<text x="378" y="694" class="l">M</text>
<text x="402" y="694" class="l">A</text>
<text x="426" y="694" class="l">M</text>
<text x="449" y="694" class="l">J</text>
<text x="473" y="694" class="l">J</text>
<text x="499" y="694" class="l">A</text>
<text x="524" y="694" class="l">S</text>
<text x="547" y="694" class="l">O</text>
<text x="573" y="694" class="l">N</text>
<rect x="575" y="680" width="48" height="16" fill="#fff"/>
<rect x="577" y="682" width="46" height="14" fill="#f0f0f0"/>
</svg>
</body></html>
